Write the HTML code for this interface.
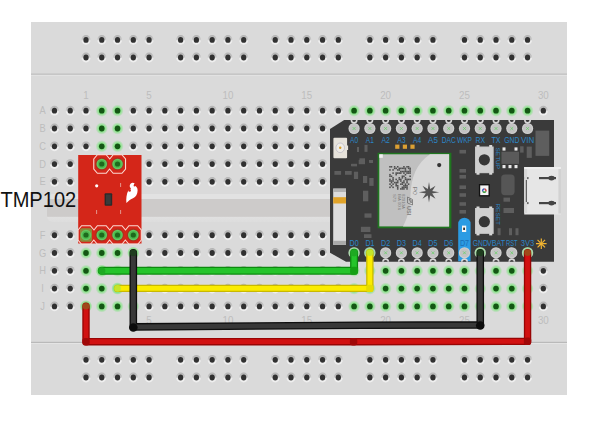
<!DOCTYPE html><html><head><meta charset="utf-8"><style>
html,body{margin:0;padding:0;background:#fff;width:600px;height:424px;overflow:hidden}
svg{display:block}
text{font-family:"Liberation Sans",sans-serif}
</style></head><body>
<svg width="600" height="424" viewBox="0 0 600 424">
<defs>
<radialGradient id="hg" cx="50%" cy="50%" r="50%">
<stop offset="0.45" stop-color="#7de37d"/><stop offset="1" stop-color="#7de37d" stop-opacity="0"/>
</radialGradient>
<linearGradient id="ring" x1="0" y1="0" x2="0" y2="1">
<stop offset="0" stop-color="#b2b2b2"/><stop offset="0.45" stop-color="#c8c8c8"/><stop offset="0.6" stop-color="#eeeeee"/><stop offset="1" stop-color="#f0f0f0"/>
</linearGradient>
<linearGradient id="chan" x1="0" y1="0" x2="0" y2="1">
<stop offset="0" stop-color="#e2e2e2"/><stop offset="0.17" stop-color="#e2e2e2"/><stop offset="0.19" stop-color="#cdcbca"/><stop offset="0.8" stop-color="#cdcbca"/><stop offset="0.82" stop-color="#e0e0e0"/><stop offset="1" stop-color="#dddddd"/>
</linearGradient>
</defs>

<rect x="31" y="22" width="536" height="373" fill="#dadada"/>
<rect x="31" y="73.6" width="536" height="1.2" fill="#b9b9b9"/><rect x="31" y="74.8" width="536" height="1" fill="#e4e4e4"/>
<rect x="31" y="341.8" width="536" height="1.2" fill="#b9b9b9"/><rect x="31" y="343" width="536" height="1" fill="#e4e4e4"/>
<rect x="47" y="194" width="504" height="28" rx="6" fill="url(#chan)"/>
<ellipse cx="86.00" cy="39.90" rx="4.5" ry="4.9" fill="url(#ring)"/>
<ellipse cx="86.00" cy="39.90" rx="2.65" ry="2.9" fill="#313131"/>
<ellipse cx="101.77" cy="39.90" rx="4.5" ry="4.9" fill="url(#ring)"/>
<ellipse cx="101.77" cy="39.90" rx="2.65" ry="2.9" fill="#313131"/>
<ellipse cx="117.54" cy="39.90" rx="4.5" ry="4.9" fill="url(#ring)"/>
<ellipse cx="117.54" cy="39.90" rx="2.65" ry="2.9" fill="#313131"/>
<ellipse cx="133.31" cy="39.90" rx="4.5" ry="4.9" fill="url(#ring)"/>
<ellipse cx="133.31" cy="39.90" rx="2.65" ry="2.9" fill="#313131"/>
<ellipse cx="149.08" cy="39.90" rx="4.5" ry="4.9" fill="url(#ring)"/>
<ellipse cx="149.08" cy="39.90" rx="2.65" ry="2.9" fill="#313131"/>
<ellipse cx="180.62" cy="39.90" rx="4.5" ry="4.9" fill="url(#ring)"/>
<ellipse cx="180.62" cy="39.90" rx="2.65" ry="2.9" fill="#313131"/>
<ellipse cx="196.39" cy="39.90" rx="4.5" ry="4.9" fill="url(#ring)"/>
<ellipse cx="196.39" cy="39.90" rx="2.65" ry="2.9" fill="#313131"/>
<ellipse cx="212.16" cy="39.90" rx="4.5" ry="4.9" fill="url(#ring)"/>
<ellipse cx="212.16" cy="39.90" rx="2.65" ry="2.9" fill="#313131"/>
<ellipse cx="227.93" cy="39.90" rx="4.5" ry="4.9" fill="url(#ring)"/>
<ellipse cx="227.93" cy="39.90" rx="2.65" ry="2.9" fill="#313131"/>
<ellipse cx="243.70" cy="39.90" rx="4.5" ry="4.9" fill="url(#ring)"/>
<ellipse cx="243.70" cy="39.90" rx="2.65" ry="2.9" fill="#313131"/>
<ellipse cx="275.24" cy="39.90" rx="4.5" ry="4.9" fill="url(#ring)"/>
<ellipse cx="275.24" cy="39.90" rx="2.65" ry="2.9" fill="#313131"/>
<ellipse cx="291.01" cy="39.90" rx="4.5" ry="4.9" fill="url(#ring)"/>
<ellipse cx="291.01" cy="39.90" rx="2.65" ry="2.9" fill="#313131"/>
<ellipse cx="306.78" cy="39.90" rx="4.5" ry="4.9" fill="url(#ring)"/>
<ellipse cx="306.78" cy="39.90" rx="2.65" ry="2.9" fill="#313131"/>
<ellipse cx="322.55" cy="39.90" rx="4.5" ry="4.9" fill="url(#ring)"/>
<ellipse cx="322.55" cy="39.90" rx="2.65" ry="2.9" fill="#313131"/>
<ellipse cx="338.32" cy="39.90" rx="4.5" ry="4.9" fill="url(#ring)"/>
<ellipse cx="338.32" cy="39.90" rx="2.65" ry="2.9" fill="#313131"/>
<ellipse cx="369.86" cy="39.90" rx="4.5" ry="4.9" fill="url(#ring)"/>
<ellipse cx="369.86" cy="39.90" rx="2.65" ry="2.9" fill="#313131"/>
<ellipse cx="385.63" cy="39.90" rx="4.5" ry="4.9" fill="url(#ring)"/>
<ellipse cx="385.63" cy="39.90" rx="2.65" ry="2.9" fill="#313131"/>
<ellipse cx="401.40" cy="39.90" rx="4.5" ry="4.9" fill="url(#ring)"/>
<ellipse cx="401.40" cy="39.90" rx="2.65" ry="2.9" fill="#313131"/>
<ellipse cx="417.17" cy="39.90" rx="4.5" ry="4.9" fill="url(#ring)"/>
<ellipse cx="417.17" cy="39.90" rx="2.65" ry="2.9" fill="#313131"/>
<ellipse cx="432.94" cy="39.90" rx="4.5" ry="4.9" fill="url(#ring)"/>
<ellipse cx="432.94" cy="39.90" rx="2.65" ry="2.9" fill="#313131"/>
<ellipse cx="464.48" cy="39.90" rx="4.5" ry="4.9" fill="url(#ring)"/>
<ellipse cx="464.48" cy="39.90" rx="2.65" ry="2.9" fill="#313131"/>
<ellipse cx="480.25" cy="39.90" rx="4.5" ry="4.9" fill="url(#ring)"/>
<ellipse cx="480.25" cy="39.90" rx="2.65" ry="2.9" fill="#313131"/>
<ellipse cx="496.02" cy="39.90" rx="4.5" ry="4.9" fill="url(#ring)"/>
<ellipse cx="496.02" cy="39.90" rx="2.65" ry="2.9" fill="#313131"/>
<ellipse cx="511.79" cy="39.90" rx="4.5" ry="4.9" fill="url(#ring)"/>
<ellipse cx="511.79" cy="39.90" rx="2.65" ry="2.9" fill="#313131"/>
<ellipse cx="527.56" cy="39.90" rx="4.5" ry="4.9" fill="url(#ring)"/>
<ellipse cx="527.56" cy="39.90" rx="2.65" ry="2.9" fill="#313131"/>
<ellipse cx="86.00" cy="57.50" rx="4.5" ry="4.9" fill="url(#ring)"/>
<ellipse cx="86.00" cy="57.50" rx="2.65" ry="2.9" fill="#313131"/>
<ellipse cx="101.77" cy="57.50" rx="4.5" ry="4.9" fill="url(#ring)"/>
<ellipse cx="101.77" cy="57.50" rx="2.65" ry="2.9" fill="#313131"/>
<ellipse cx="117.54" cy="57.50" rx="4.5" ry="4.9" fill="url(#ring)"/>
<ellipse cx="117.54" cy="57.50" rx="2.65" ry="2.9" fill="#313131"/>
<ellipse cx="133.31" cy="57.50" rx="4.5" ry="4.9" fill="url(#ring)"/>
<ellipse cx="133.31" cy="57.50" rx="2.65" ry="2.9" fill="#313131"/>
<ellipse cx="149.08" cy="57.50" rx="4.5" ry="4.9" fill="url(#ring)"/>
<ellipse cx="149.08" cy="57.50" rx="2.65" ry="2.9" fill="#313131"/>
<ellipse cx="180.62" cy="57.50" rx="4.5" ry="4.9" fill="url(#ring)"/>
<ellipse cx="180.62" cy="57.50" rx="2.65" ry="2.9" fill="#313131"/>
<ellipse cx="196.39" cy="57.50" rx="4.5" ry="4.9" fill="url(#ring)"/>
<ellipse cx="196.39" cy="57.50" rx="2.65" ry="2.9" fill="#313131"/>
<ellipse cx="212.16" cy="57.50" rx="4.5" ry="4.9" fill="url(#ring)"/>
<ellipse cx="212.16" cy="57.50" rx="2.65" ry="2.9" fill="#313131"/>
<ellipse cx="227.93" cy="57.50" rx="4.5" ry="4.9" fill="url(#ring)"/>
<ellipse cx="227.93" cy="57.50" rx="2.65" ry="2.9" fill="#313131"/>
<ellipse cx="243.70" cy="57.50" rx="4.5" ry="4.9" fill="url(#ring)"/>
<ellipse cx="243.70" cy="57.50" rx="2.65" ry="2.9" fill="#313131"/>
<ellipse cx="275.24" cy="57.50" rx="4.5" ry="4.9" fill="url(#ring)"/>
<ellipse cx="275.24" cy="57.50" rx="2.65" ry="2.9" fill="#313131"/>
<ellipse cx="291.01" cy="57.50" rx="4.5" ry="4.9" fill="url(#ring)"/>
<ellipse cx="291.01" cy="57.50" rx="2.65" ry="2.9" fill="#313131"/>
<ellipse cx="306.78" cy="57.50" rx="4.5" ry="4.9" fill="url(#ring)"/>
<ellipse cx="306.78" cy="57.50" rx="2.65" ry="2.9" fill="#313131"/>
<ellipse cx="322.55" cy="57.50" rx="4.5" ry="4.9" fill="url(#ring)"/>
<ellipse cx="322.55" cy="57.50" rx="2.65" ry="2.9" fill="#313131"/>
<ellipse cx="338.32" cy="57.50" rx="4.5" ry="4.9" fill="url(#ring)"/>
<ellipse cx="338.32" cy="57.50" rx="2.65" ry="2.9" fill="#313131"/>
<ellipse cx="369.86" cy="57.50" rx="4.5" ry="4.9" fill="url(#ring)"/>
<ellipse cx="369.86" cy="57.50" rx="2.65" ry="2.9" fill="#313131"/>
<ellipse cx="385.63" cy="57.50" rx="4.5" ry="4.9" fill="url(#ring)"/>
<ellipse cx="385.63" cy="57.50" rx="2.65" ry="2.9" fill="#313131"/>
<ellipse cx="401.40" cy="57.50" rx="4.5" ry="4.9" fill="url(#ring)"/>
<ellipse cx="401.40" cy="57.50" rx="2.65" ry="2.9" fill="#313131"/>
<ellipse cx="417.17" cy="57.50" rx="4.5" ry="4.9" fill="url(#ring)"/>
<ellipse cx="417.17" cy="57.50" rx="2.65" ry="2.9" fill="#313131"/>
<ellipse cx="432.94" cy="57.50" rx="4.5" ry="4.9" fill="url(#ring)"/>
<ellipse cx="432.94" cy="57.50" rx="2.65" ry="2.9" fill="#313131"/>
<ellipse cx="464.48" cy="57.50" rx="4.5" ry="4.9" fill="url(#ring)"/>
<ellipse cx="464.48" cy="57.50" rx="2.65" ry="2.9" fill="#313131"/>
<ellipse cx="480.25" cy="57.50" rx="4.5" ry="4.9" fill="url(#ring)"/>
<ellipse cx="480.25" cy="57.50" rx="2.65" ry="2.9" fill="#313131"/>
<ellipse cx="496.02" cy="57.50" rx="4.5" ry="4.9" fill="url(#ring)"/>
<ellipse cx="496.02" cy="57.50" rx="2.65" ry="2.9" fill="#313131"/>
<ellipse cx="511.79" cy="57.50" rx="4.5" ry="4.9" fill="url(#ring)"/>
<ellipse cx="511.79" cy="57.50" rx="2.65" ry="2.9" fill="#313131"/>
<ellipse cx="527.56" cy="57.50" rx="4.5" ry="4.9" fill="url(#ring)"/>
<ellipse cx="527.56" cy="57.50" rx="2.65" ry="2.9" fill="#313131"/>
<ellipse cx="86.00" cy="359.80" rx="4.5" ry="4.9" fill="url(#ring)"/>
<ellipse cx="86.00" cy="359.80" rx="2.65" ry="2.9" fill="#313131"/>
<ellipse cx="101.77" cy="359.80" rx="4.5" ry="4.9" fill="url(#ring)"/>
<ellipse cx="101.77" cy="359.80" rx="2.65" ry="2.9" fill="#313131"/>
<ellipse cx="117.54" cy="359.80" rx="4.5" ry="4.9" fill="url(#ring)"/>
<ellipse cx="117.54" cy="359.80" rx="2.65" ry="2.9" fill="#313131"/>
<ellipse cx="133.31" cy="359.80" rx="4.5" ry="4.9" fill="url(#ring)"/>
<ellipse cx="133.31" cy="359.80" rx="2.65" ry="2.9" fill="#313131"/>
<ellipse cx="149.08" cy="359.80" rx="4.5" ry="4.9" fill="url(#ring)"/>
<ellipse cx="149.08" cy="359.80" rx="2.65" ry="2.9" fill="#313131"/>
<ellipse cx="180.62" cy="359.80" rx="4.5" ry="4.9" fill="url(#ring)"/>
<ellipse cx="180.62" cy="359.80" rx="2.65" ry="2.9" fill="#313131"/>
<ellipse cx="196.39" cy="359.80" rx="4.5" ry="4.9" fill="url(#ring)"/>
<ellipse cx="196.39" cy="359.80" rx="2.65" ry="2.9" fill="#313131"/>
<ellipse cx="212.16" cy="359.80" rx="4.5" ry="4.9" fill="url(#ring)"/>
<ellipse cx="212.16" cy="359.80" rx="2.65" ry="2.9" fill="#313131"/>
<ellipse cx="227.93" cy="359.80" rx="4.5" ry="4.9" fill="url(#ring)"/>
<ellipse cx="227.93" cy="359.80" rx="2.65" ry="2.9" fill="#313131"/>
<ellipse cx="243.70" cy="359.80" rx="4.5" ry="4.9" fill="url(#ring)"/>
<ellipse cx="243.70" cy="359.80" rx="2.65" ry="2.9" fill="#313131"/>
<ellipse cx="275.24" cy="359.80" rx="4.5" ry="4.9" fill="url(#ring)"/>
<ellipse cx="275.24" cy="359.80" rx="2.65" ry="2.9" fill="#313131"/>
<ellipse cx="291.01" cy="359.80" rx="4.5" ry="4.9" fill="url(#ring)"/>
<ellipse cx="291.01" cy="359.80" rx="2.65" ry="2.9" fill="#313131"/>
<ellipse cx="306.78" cy="359.80" rx="4.5" ry="4.9" fill="url(#ring)"/>
<ellipse cx="306.78" cy="359.80" rx="2.65" ry="2.9" fill="#313131"/>
<ellipse cx="322.55" cy="359.80" rx="4.5" ry="4.9" fill="url(#ring)"/>
<ellipse cx="322.55" cy="359.80" rx="2.65" ry="2.9" fill="#313131"/>
<ellipse cx="338.32" cy="359.80" rx="4.5" ry="4.9" fill="url(#ring)"/>
<ellipse cx="338.32" cy="359.80" rx="2.65" ry="2.9" fill="#313131"/>
<ellipse cx="369.86" cy="359.80" rx="4.5" ry="4.9" fill="url(#ring)"/>
<ellipse cx="369.86" cy="359.80" rx="2.65" ry="2.9" fill="#313131"/>
<ellipse cx="385.63" cy="359.80" rx="4.5" ry="4.9" fill="url(#ring)"/>
<ellipse cx="385.63" cy="359.80" rx="2.65" ry="2.9" fill="#313131"/>
<ellipse cx="401.40" cy="359.80" rx="4.5" ry="4.9" fill="url(#ring)"/>
<ellipse cx="401.40" cy="359.80" rx="2.65" ry="2.9" fill="#313131"/>
<ellipse cx="417.17" cy="359.80" rx="4.5" ry="4.9" fill="url(#ring)"/>
<ellipse cx="417.17" cy="359.80" rx="2.65" ry="2.9" fill="#313131"/>
<ellipse cx="432.94" cy="359.80" rx="4.5" ry="4.9" fill="url(#ring)"/>
<ellipse cx="432.94" cy="359.80" rx="2.65" ry="2.9" fill="#313131"/>
<ellipse cx="464.48" cy="359.80" rx="4.5" ry="4.9" fill="url(#ring)"/>
<ellipse cx="464.48" cy="359.80" rx="2.65" ry="2.9" fill="#313131"/>
<ellipse cx="480.25" cy="359.80" rx="4.5" ry="4.9" fill="url(#ring)"/>
<ellipse cx="480.25" cy="359.80" rx="2.65" ry="2.9" fill="#313131"/>
<ellipse cx="496.02" cy="359.80" rx="4.5" ry="4.9" fill="url(#ring)"/>
<ellipse cx="496.02" cy="359.80" rx="2.65" ry="2.9" fill="#313131"/>
<ellipse cx="511.79" cy="359.80" rx="4.5" ry="4.9" fill="url(#ring)"/>
<ellipse cx="511.79" cy="359.80" rx="2.65" ry="2.9" fill="#313131"/>
<ellipse cx="527.56" cy="359.80" rx="4.5" ry="4.9" fill="url(#ring)"/>
<ellipse cx="527.56" cy="359.80" rx="2.65" ry="2.9" fill="#313131"/>
<ellipse cx="86.00" cy="377.50" rx="4.5" ry="4.9" fill="url(#ring)"/>
<ellipse cx="86.00" cy="377.50" rx="2.65" ry="2.9" fill="#313131"/>
<ellipse cx="101.77" cy="377.50" rx="4.5" ry="4.9" fill="url(#ring)"/>
<ellipse cx="101.77" cy="377.50" rx="2.65" ry="2.9" fill="#313131"/>
<ellipse cx="117.54" cy="377.50" rx="4.5" ry="4.9" fill="url(#ring)"/>
<ellipse cx="117.54" cy="377.50" rx="2.65" ry="2.9" fill="#313131"/>
<ellipse cx="133.31" cy="377.50" rx="4.5" ry="4.9" fill="url(#ring)"/>
<ellipse cx="133.31" cy="377.50" rx="2.65" ry="2.9" fill="#313131"/>
<ellipse cx="149.08" cy="377.50" rx="4.5" ry="4.9" fill="url(#ring)"/>
<ellipse cx="149.08" cy="377.50" rx="2.65" ry="2.9" fill="#313131"/>
<ellipse cx="180.62" cy="377.50" rx="4.5" ry="4.9" fill="url(#ring)"/>
<ellipse cx="180.62" cy="377.50" rx="2.65" ry="2.9" fill="#313131"/>
<ellipse cx="196.39" cy="377.50" rx="4.5" ry="4.9" fill="url(#ring)"/>
<ellipse cx="196.39" cy="377.50" rx="2.65" ry="2.9" fill="#313131"/>
<ellipse cx="212.16" cy="377.50" rx="4.5" ry="4.9" fill="url(#ring)"/>
<ellipse cx="212.16" cy="377.50" rx="2.65" ry="2.9" fill="#313131"/>
<ellipse cx="227.93" cy="377.50" rx="4.5" ry="4.9" fill="url(#ring)"/>
<ellipse cx="227.93" cy="377.50" rx="2.65" ry="2.9" fill="#313131"/>
<ellipse cx="243.70" cy="377.50" rx="4.5" ry="4.9" fill="url(#ring)"/>
<ellipse cx="243.70" cy="377.50" rx="2.65" ry="2.9" fill="#313131"/>
<ellipse cx="275.24" cy="377.50" rx="4.5" ry="4.9" fill="url(#ring)"/>
<ellipse cx="275.24" cy="377.50" rx="2.65" ry="2.9" fill="#313131"/>
<ellipse cx="291.01" cy="377.50" rx="4.5" ry="4.9" fill="url(#ring)"/>
<ellipse cx="291.01" cy="377.50" rx="2.65" ry="2.9" fill="#313131"/>
<ellipse cx="306.78" cy="377.50" rx="4.5" ry="4.9" fill="url(#ring)"/>
<ellipse cx="306.78" cy="377.50" rx="2.65" ry="2.9" fill="#313131"/>
<ellipse cx="322.55" cy="377.50" rx="4.5" ry="4.9" fill="url(#ring)"/>
<ellipse cx="322.55" cy="377.50" rx="2.65" ry="2.9" fill="#313131"/>
<ellipse cx="338.32" cy="377.50" rx="4.5" ry="4.9" fill="url(#ring)"/>
<ellipse cx="338.32" cy="377.50" rx="2.65" ry="2.9" fill="#313131"/>
<ellipse cx="369.86" cy="377.50" rx="4.5" ry="4.9" fill="url(#ring)"/>
<ellipse cx="369.86" cy="377.50" rx="2.65" ry="2.9" fill="#313131"/>
<ellipse cx="385.63" cy="377.50" rx="4.5" ry="4.9" fill="url(#ring)"/>
<ellipse cx="385.63" cy="377.50" rx="2.65" ry="2.9" fill="#313131"/>
<ellipse cx="401.40" cy="377.50" rx="4.5" ry="4.9" fill="url(#ring)"/>
<ellipse cx="401.40" cy="377.50" rx="2.65" ry="2.9" fill="#313131"/>
<ellipse cx="417.17" cy="377.50" rx="4.5" ry="4.9" fill="url(#ring)"/>
<ellipse cx="417.17" cy="377.50" rx="2.65" ry="2.9" fill="#313131"/>
<ellipse cx="432.94" cy="377.50" rx="4.5" ry="4.9" fill="url(#ring)"/>
<ellipse cx="432.94" cy="377.50" rx="2.65" ry="2.9" fill="#313131"/>
<ellipse cx="464.48" cy="377.50" rx="4.5" ry="4.9" fill="url(#ring)"/>
<ellipse cx="464.48" cy="377.50" rx="2.65" ry="2.9" fill="#313131"/>
<ellipse cx="480.25" cy="377.50" rx="4.5" ry="4.9" fill="url(#ring)"/>
<ellipse cx="480.25" cy="377.50" rx="2.65" ry="2.9" fill="#313131"/>
<ellipse cx="496.02" cy="377.50" rx="4.5" ry="4.9" fill="url(#ring)"/>
<ellipse cx="496.02" cy="377.50" rx="2.65" ry="2.9" fill="#313131"/>
<ellipse cx="511.79" cy="377.50" rx="4.5" ry="4.9" fill="url(#ring)"/>
<ellipse cx="511.79" cy="377.50" rx="2.65" ry="2.9" fill="#313131"/>
<ellipse cx="527.56" cy="377.50" rx="4.5" ry="4.9" fill="url(#ring)"/>
<ellipse cx="527.56" cy="377.50" rx="2.65" ry="2.9" fill="#313131"/>
<ellipse cx="54.46" cy="110.70" rx="4.5" ry="4.9" fill="url(#ring)"/>
<ellipse cx="54.46" cy="110.70" rx="2.65" ry="2.9" fill="#313131"/>
<ellipse cx="54.46" cy="128.49" rx="4.5" ry="4.9" fill="url(#ring)"/>
<ellipse cx="54.46" cy="128.49" rx="2.65" ry="2.9" fill="#313131"/>
<ellipse cx="54.46" cy="146.28" rx="4.5" ry="4.9" fill="url(#ring)"/>
<ellipse cx="54.46" cy="146.28" rx="2.65" ry="2.9" fill="#313131"/>
<ellipse cx="54.46" cy="164.07" rx="4.5" ry="4.9" fill="url(#ring)"/>
<ellipse cx="54.46" cy="164.07" rx="2.65" ry="2.9" fill="#313131"/>
<ellipse cx="54.46" cy="181.86" rx="4.5" ry="4.9" fill="url(#ring)"/>
<ellipse cx="54.46" cy="181.86" rx="2.65" ry="2.9" fill="#313131"/>
<ellipse cx="54.46" cy="235.23" rx="4.5" ry="4.9" fill="url(#ring)"/>
<ellipse cx="54.46" cy="235.23" rx="2.65" ry="2.9" fill="#313131"/>
<ellipse cx="54.46" cy="253.02" rx="4.5" ry="4.9" fill="url(#ring)"/>
<ellipse cx="54.46" cy="253.02" rx="2.65" ry="2.9" fill="#313131"/>
<ellipse cx="54.46" cy="270.81" rx="4.5" ry="4.9" fill="url(#ring)"/>
<ellipse cx="54.46" cy="270.81" rx="2.65" ry="2.9" fill="#313131"/>
<ellipse cx="54.46" cy="288.60" rx="4.5" ry="4.9" fill="url(#ring)"/>
<ellipse cx="54.46" cy="288.60" rx="2.65" ry="2.9" fill="#313131"/>
<ellipse cx="54.46" cy="306.39" rx="4.5" ry="4.9" fill="url(#ring)"/>
<ellipse cx="54.46" cy="306.39" rx="2.65" ry="2.9" fill="#313131"/>
<ellipse cx="70.23" cy="110.70" rx="4.5" ry="4.9" fill="url(#ring)"/>
<ellipse cx="70.23" cy="110.70" rx="2.65" ry="2.9" fill="#313131"/>
<ellipse cx="70.23" cy="128.49" rx="4.5" ry="4.9" fill="url(#ring)"/>
<ellipse cx="70.23" cy="128.49" rx="2.65" ry="2.9" fill="#313131"/>
<ellipse cx="70.23" cy="146.28" rx="4.5" ry="4.9" fill="url(#ring)"/>
<ellipse cx="70.23" cy="146.28" rx="2.65" ry="2.9" fill="#313131"/>
<ellipse cx="70.23" cy="164.07" rx="4.5" ry="4.9" fill="url(#ring)"/>
<ellipse cx="70.23" cy="164.07" rx="2.65" ry="2.9" fill="#313131"/>
<ellipse cx="70.23" cy="181.86" rx="4.5" ry="4.9" fill="url(#ring)"/>
<ellipse cx="70.23" cy="181.86" rx="2.65" ry="2.9" fill="#313131"/>
<ellipse cx="70.23" cy="235.23" rx="4.5" ry="4.9" fill="url(#ring)"/>
<ellipse cx="70.23" cy="235.23" rx="2.65" ry="2.9" fill="#313131"/>
<ellipse cx="70.23" cy="253.02" rx="4.5" ry="4.9" fill="url(#ring)"/>
<ellipse cx="70.23" cy="253.02" rx="2.65" ry="2.9" fill="#313131"/>
<ellipse cx="70.23" cy="270.81" rx="4.5" ry="4.9" fill="url(#ring)"/>
<ellipse cx="70.23" cy="270.81" rx="2.65" ry="2.9" fill="#313131"/>
<ellipse cx="70.23" cy="288.60" rx="4.5" ry="4.9" fill="url(#ring)"/>
<ellipse cx="70.23" cy="288.60" rx="2.65" ry="2.9" fill="#313131"/>
<ellipse cx="70.23" cy="306.39" rx="4.5" ry="4.9" fill="url(#ring)"/>
<ellipse cx="70.23" cy="306.39" rx="2.65" ry="2.9" fill="#313131"/>
<ellipse cx="86.00" cy="110.70" rx="4.5" ry="4.9" fill="url(#ring)"/>
<ellipse cx="86.00" cy="110.70" rx="2.65" ry="2.9" fill="#313131"/>
<ellipse cx="86.00" cy="128.49" rx="4.5" ry="4.9" fill="url(#ring)"/>
<ellipse cx="86.00" cy="128.49" rx="2.65" ry="2.9" fill="#313131"/>
<ellipse cx="86.00" cy="146.28" rx="4.5" ry="4.9" fill="url(#ring)"/>
<ellipse cx="86.00" cy="146.28" rx="2.65" ry="2.9" fill="#313131"/>
<circle cx="86.00" cy="253.02" r="6.2" fill="url(#hg)"/>
<ellipse cx="86.00" cy="253.02" rx="2.8" ry="2.9" fill="#145614"/>
<circle cx="86.00" cy="270.81" r="6.2" fill="url(#hg)"/>
<ellipse cx="86.00" cy="270.81" rx="2.8" ry="2.9" fill="#145614"/>
<circle cx="86.00" cy="288.60" r="6.2" fill="url(#hg)"/>
<ellipse cx="86.00" cy="288.60" rx="2.8" ry="2.9" fill="#145614"/>
<circle cx="86.00" cy="306.39" r="6.2" fill="url(#hg)"/>
<ellipse cx="86.00" cy="306.39" rx="2.8" ry="2.9" fill="#145614"/>
<circle cx="101.77" cy="110.70" r="6.2" fill="url(#hg)"/>
<ellipse cx="101.77" cy="110.70" rx="2.8" ry="2.9" fill="#145614"/>
<circle cx="101.77" cy="128.49" r="6.2" fill="url(#hg)"/>
<ellipse cx="101.77" cy="128.49" rx="2.8" ry="2.9" fill="#145614"/>
<circle cx="101.77" cy="146.28" r="6.2" fill="url(#hg)"/>
<ellipse cx="101.77" cy="146.28" rx="2.8" ry="2.9" fill="#145614"/>
<circle cx="101.77" cy="253.02" r="6.2" fill="url(#hg)"/>
<ellipse cx="101.77" cy="253.02" rx="2.8" ry="2.9" fill="#145614"/>
<circle cx="101.77" cy="270.81" r="6.2" fill="url(#hg)"/>
<ellipse cx="101.77" cy="270.81" rx="2.8" ry="2.9" fill="#145614"/>
<circle cx="101.77" cy="288.60" r="6.2" fill="url(#hg)"/>
<ellipse cx="101.77" cy="288.60" rx="2.8" ry="2.9" fill="#145614"/>
<circle cx="101.77" cy="306.39" r="6.2" fill="url(#hg)"/>
<ellipse cx="101.77" cy="306.39" rx="2.8" ry="2.9" fill="#145614"/>
<circle cx="117.54" cy="110.70" r="6.2" fill="url(#hg)"/>
<ellipse cx="117.54" cy="110.70" rx="2.8" ry="2.9" fill="#145614"/>
<circle cx="117.54" cy="128.49" r="6.2" fill="url(#hg)"/>
<ellipse cx="117.54" cy="128.49" rx="2.8" ry="2.9" fill="#145614"/>
<circle cx="117.54" cy="146.28" r="6.2" fill="url(#hg)"/>
<ellipse cx="117.54" cy="146.28" rx="2.8" ry="2.9" fill="#145614"/>
<circle cx="117.54" cy="253.02" r="6.2" fill="url(#hg)"/>
<ellipse cx="117.54" cy="253.02" rx="2.8" ry="2.9" fill="#145614"/>
<circle cx="117.54" cy="270.81" r="6.2" fill="url(#hg)"/>
<ellipse cx="117.54" cy="270.81" rx="2.8" ry="2.9" fill="#145614"/>
<circle cx="117.54" cy="288.60" r="6.2" fill="url(#hg)"/>
<ellipse cx="117.54" cy="288.60" rx="2.8" ry="2.9" fill="#145614"/>
<circle cx="117.54" cy="306.39" r="6.2" fill="url(#hg)"/>
<ellipse cx="117.54" cy="306.39" rx="2.8" ry="2.9" fill="#145614"/>
<ellipse cx="133.31" cy="110.70" rx="4.5" ry="4.9" fill="url(#ring)"/>
<ellipse cx="133.31" cy="110.70" rx="2.65" ry="2.9" fill="#313131"/>
<ellipse cx="133.31" cy="128.49" rx="4.5" ry="4.9" fill="url(#ring)"/>
<ellipse cx="133.31" cy="128.49" rx="2.65" ry="2.9" fill="#313131"/>
<ellipse cx="133.31" cy="146.28" rx="4.5" ry="4.9" fill="url(#ring)"/>
<ellipse cx="133.31" cy="146.28" rx="2.65" ry="2.9" fill="#313131"/>
<circle cx="133.31" cy="253.02" r="6.2" fill="url(#hg)"/>
<ellipse cx="133.31" cy="253.02" rx="2.8" ry="2.9" fill="#145614"/>
<circle cx="133.31" cy="270.81" r="6.2" fill="url(#hg)"/>
<ellipse cx="133.31" cy="270.81" rx="2.8" ry="2.9" fill="#145614"/>
<circle cx="133.31" cy="288.60" r="6.2" fill="url(#hg)"/>
<ellipse cx="133.31" cy="288.60" rx="2.8" ry="2.9" fill="#145614"/>
<circle cx="133.31" cy="306.39" r="6.2" fill="url(#hg)"/>
<ellipse cx="133.31" cy="306.39" rx="2.8" ry="2.9" fill="#145614"/>
<ellipse cx="149.08" cy="110.70" rx="4.5" ry="4.9" fill="url(#ring)"/>
<ellipse cx="149.08" cy="110.70" rx="2.65" ry="2.9" fill="#313131"/>
<ellipse cx="149.08" cy="128.49" rx="4.5" ry="4.9" fill="url(#ring)"/>
<ellipse cx="149.08" cy="128.49" rx="2.65" ry="2.9" fill="#313131"/>
<ellipse cx="149.08" cy="146.28" rx="4.5" ry="4.9" fill="url(#ring)"/>
<ellipse cx="149.08" cy="146.28" rx="2.65" ry="2.9" fill="#313131"/>
<ellipse cx="149.08" cy="164.07" rx="4.5" ry="4.9" fill="url(#ring)"/>
<ellipse cx="149.08" cy="164.07" rx="2.65" ry="2.9" fill="#313131"/>
<ellipse cx="149.08" cy="181.86" rx="4.5" ry="4.9" fill="url(#ring)"/>
<ellipse cx="149.08" cy="181.86" rx="2.65" ry="2.9" fill="#313131"/>
<ellipse cx="149.08" cy="235.23" rx="4.5" ry="4.9" fill="url(#ring)"/>
<ellipse cx="149.08" cy="235.23" rx="2.65" ry="2.9" fill="#313131"/>
<ellipse cx="149.08" cy="253.02" rx="4.5" ry="4.9" fill="url(#ring)"/>
<ellipse cx="149.08" cy="253.02" rx="2.65" ry="2.9" fill="#313131"/>
<ellipse cx="149.08" cy="270.81" rx="4.5" ry="4.9" fill="url(#ring)"/>
<ellipse cx="149.08" cy="270.81" rx="2.65" ry="2.9" fill="#313131"/>
<ellipse cx="149.08" cy="288.60" rx="4.5" ry="4.9" fill="url(#ring)"/>
<ellipse cx="149.08" cy="288.60" rx="2.65" ry="2.9" fill="#313131"/>
<ellipse cx="149.08" cy="306.39" rx="4.5" ry="4.9" fill="url(#ring)"/>
<ellipse cx="149.08" cy="306.39" rx="2.65" ry="2.9" fill="#313131"/>
<ellipse cx="164.85" cy="110.70" rx="4.5" ry="4.9" fill="url(#ring)"/>
<ellipse cx="164.85" cy="110.70" rx="2.65" ry="2.9" fill="#313131"/>
<ellipse cx="164.85" cy="128.49" rx="4.5" ry="4.9" fill="url(#ring)"/>
<ellipse cx="164.85" cy="128.49" rx="2.65" ry="2.9" fill="#313131"/>
<ellipse cx="164.85" cy="146.28" rx="4.5" ry="4.9" fill="url(#ring)"/>
<ellipse cx="164.85" cy="146.28" rx="2.65" ry="2.9" fill="#313131"/>
<ellipse cx="164.85" cy="164.07" rx="4.5" ry="4.9" fill="url(#ring)"/>
<ellipse cx="164.85" cy="164.07" rx="2.65" ry="2.9" fill="#313131"/>
<ellipse cx="164.85" cy="181.86" rx="4.5" ry="4.9" fill="url(#ring)"/>
<ellipse cx="164.85" cy="181.86" rx="2.65" ry="2.9" fill="#313131"/>
<ellipse cx="164.85" cy="235.23" rx="4.5" ry="4.9" fill="url(#ring)"/>
<ellipse cx="164.85" cy="235.23" rx="2.65" ry="2.9" fill="#313131"/>
<ellipse cx="164.85" cy="253.02" rx="4.5" ry="4.9" fill="url(#ring)"/>
<ellipse cx="164.85" cy="253.02" rx="2.65" ry="2.9" fill="#313131"/>
<ellipse cx="164.85" cy="270.81" rx="4.5" ry="4.9" fill="url(#ring)"/>
<ellipse cx="164.85" cy="270.81" rx="2.65" ry="2.9" fill="#313131"/>
<ellipse cx="164.85" cy="288.60" rx="4.5" ry="4.9" fill="url(#ring)"/>
<ellipse cx="164.85" cy="288.60" rx="2.65" ry="2.9" fill="#313131"/>
<ellipse cx="164.85" cy="306.39" rx="4.5" ry="4.9" fill="url(#ring)"/>
<ellipse cx="164.85" cy="306.39" rx="2.65" ry="2.9" fill="#313131"/>
<ellipse cx="180.62" cy="110.70" rx="4.5" ry="4.9" fill="url(#ring)"/>
<ellipse cx="180.62" cy="110.70" rx="2.65" ry="2.9" fill="#313131"/>
<ellipse cx="180.62" cy="128.49" rx="4.5" ry="4.9" fill="url(#ring)"/>
<ellipse cx="180.62" cy="128.49" rx="2.65" ry="2.9" fill="#313131"/>
<ellipse cx="180.62" cy="146.28" rx="4.5" ry="4.9" fill="url(#ring)"/>
<ellipse cx="180.62" cy="146.28" rx="2.65" ry="2.9" fill="#313131"/>
<ellipse cx="180.62" cy="164.07" rx="4.5" ry="4.9" fill="url(#ring)"/>
<ellipse cx="180.62" cy="164.07" rx="2.65" ry="2.9" fill="#313131"/>
<ellipse cx="180.62" cy="181.86" rx="4.5" ry="4.9" fill="url(#ring)"/>
<ellipse cx="180.62" cy="181.86" rx="2.65" ry="2.9" fill="#313131"/>
<ellipse cx="180.62" cy="235.23" rx="4.5" ry="4.9" fill="url(#ring)"/>
<ellipse cx="180.62" cy="235.23" rx="2.65" ry="2.9" fill="#313131"/>
<ellipse cx="180.62" cy="253.02" rx="4.5" ry="4.9" fill="url(#ring)"/>
<ellipse cx="180.62" cy="253.02" rx="2.65" ry="2.9" fill="#313131"/>
<ellipse cx="180.62" cy="270.81" rx="4.5" ry="4.9" fill="url(#ring)"/>
<ellipse cx="180.62" cy="270.81" rx="2.65" ry="2.9" fill="#313131"/>
<ellipse cx="180.62" cy="288.60" rx="4.5" ry="4.9" fill="url(#ring)"/>
<ellipse cx="180.62" cy="288.60" rx="2.65" ry="2.9" fill="#313131"/>
<ellipse cx="180.62" cy="306.39" rx="4.5" ry="4.9" fill="url(#ring)"/>
<ellipse cx="180.62" cy="306.39" rx="2.65" ry="2.9" fill="#313131"/>
<ellipse cx="196.39" cy="110.70" rx="4.5" ry="4.9" fill="url(#ring)"/>
<ellipse cx="196.39" cy="110.70" rx="2.65" ry="2.9" fill="#313131"/>
<ellipse cx="196.39" cy="128.49" rx="4.5" ry="4.9" fill="url(#ring)"/>
<ellipse cx="196.39" cy="128.49" rx="2.65" ry="2.9" fill="#313131"/>
<ellipse cx="196.39" cy="146.28" rx="4.5" ry="4.9" fill="url(#ring)"/>
<ellipse cx="196.39" cy="146.28" rx="2.65" ry="2.9" fill="#313131"/>
<ellipse cx="196.39" cy="164.07" rx="4.5" ry="4.9" fill="url(#ring)"/>
<ellipse cx="196.39" cy="164.07" rx="2.65" ry="2.9" fill="#313131"/>
<ellipse cx="196.39" cy="181.86" rx="4.5" ry="4.9" fill="url(#ring)"/>
<ellipse cx="196.39" cy="181.86" rx="2.65" ry="2.9" fill="#313131"/>
<ellipse cx="196.39" cy="235.23" rx="4.5" ry="4.9" fill="url(#ring)"/>
<ellipse cx="196.39" cy="235.23" rx="2.65" ry="2.9" fill="#313131"/>
<ellipse cx="196.39" cy="253.02" rx="4.5" ry="4.9" fill="url(#ring)"/>
<ellipse cx="196.39" cy="253.02" rx="2.65" ry="2.9" fill="#313131"/>
<ellipse cx="196.39" cy="270.81" rx="4.5" ry="4.9" fill="url(#ring)"/>
<ellipse cx="196.39" cy="270.81" rx="2.65" ry="2.9" fill="#313131"/>
<ellipse cx="196.39" cy="288.60" rx="4.5" ry="4.9" fill="url(#ring)"/>
<ellipse cx="196.39" cy="288.60" rx="2.65" ry="2.9" fill="#313131"/>
<ellipse cx="196.39" cy="306.39" rx="4.5" ry="4.9" fill="url(#ring)"/>
<ellipse cx="196.39" cy="306.39" rx="2.65" ry="2.9" fill="#313131"/>
<ellipse cx="212.16" cy="110.70" rx="4.5" ry="4.9" fill="url(#ring)"/>
<ellipse cx="212.16" cy="110.70" rx="2.65" ry="2.9" fill="#313131"/>
<ellipse cx="212.16" cy="128.49" rx="4.5" ry="4.9" fill="url(#ring)"/>
<ellipse cx="212.16" cy="128.49" rx="2.65" ry="2.9" fill="#313131"/>
<ellipse cx="212.16" cy="146.28" rx="4.5" ry="4.9" fill="url(#ring)"/>
<ellipse cx="212.16" cy="146.28" rx="2.65" ry="2.9" fill="#313131"/>
<ellipse cx="212.16" cy="164.07" rx="4.5" ry="4.9" fill="url(#ring)"/>
<ellipse cx="212.16" cy="164.07" rx="2.65" ry="2.9" fill="#313131"/>
<ellipse cx="212.16" cy="181.86" rx="4.5" ry="4.9" fill="url(#ring)"/>
<ellipse cx="212.16" cy="181.86" rx="2.65" ry="2.9" fill="#313131"/>
<ellipse cx="212.16" cy="235.23" rx="4.5" ry="4.9" fill="url(#ring)"/>
<ellipse cx="212.16" cy="235.23" rx="2.65" ry="2.9" fill="#313131"/>
<ellipse cx="212.16" cy="253.02" rx="4.5" ry="4.9" fill="url(#ring)"/>
<ellipse cx="212.16" cy="253.02" rx="2.65" ry="2.9" fill="#313131"/>
<ellipse cx="212.16" cy="270.81" rx="4.5" ry="4.9" fill="url(#ring)"/>
<ellipse cx="212.16" cy="270.81" rx="2.65" ry="2.9" fill="#313131"/>
<ellipse cx="212.16" cy="288.60" rx="4.5" ry="4.9" fill="url(#ring)"/>
<ellipse cx="212.16" cy="288.60" rx="2.65" ry="2.9" fill="#313131"/>
<ellipse cx="212.16" cy="306.39" rx="4.5" ry="4.9" fill="url(#ring)"/>
<ellipse cx="212.16" cy="306.39" rx="2.65" ry="2.9" fill="#313131"/>
<ellipse cx="227.93" cy="110.70" rx="4.5" ry="4.9" fill="url(#ring)"/>
<ellipse cx="227.93" cy="110.70" rx="2.65" ry="2.9" fill="#313131"/>
<ellipse cx="227.93" cy="128.49" rx="4.5" ry="4.9" fill="url(#ring)"/>
<ellipse cx="227.93" cy="128.49" rx="2.65" ry="2.9" fill="#313131"/>
<ellipse cx="227.93" cy="146.28" rx="4.5" ry="4.9" fill="url(#ring)"/>
<ellipse cx="227.93" cy="146.28" rx="2.65" ry="2.9" fill="#313131"/>
<ellipse cx="227.93" cy="164.07" rx="4.5" ry="4.9" fill="url(#ring)"/>
<ellipse cx="227.93" cy="164.07" rx="2.65" ry="2.9" fill="#313131"/>
<ellipse cx="227.93" cy="181.86" rx="4.5" ry="4.9" fill="url(#ring)"/>
<ellipse cx="227.93" cy="181.86" rx="2.65" ry="2.9" fill="#313131"/>
<ellipse cx="227.93" cy="235.23" rx="4.5" ry="4.9" fill="url(#ring)"/>
<ellipse cx="227.93" cy="235.23" rx="2.65" ry="2.9" fill="#313131"/>
<ellipse cx="227.93" cy="253.02" rx="4.5" ry="4.9" fill="url(#ring)"/>
<ellipse cx="227.93" cy="253.02" rx="2.65" ry="2.9" fill="#313131"/>
<ellipse cx="227.93" cy="270.81" rx="4.5" ry="4.9" fill="url(#ring)"/>
<ellipse cx="227.93" cy="270.81" rx="2.65" ry="2.9" fill="#313131"/>
<ellipse cx="227.93" cy="288.60" rx="4.5" ry="4.9" fill="url(#ring)"/>
<ellipse cx="227.93" cy="288.60" rx="2.65" ry="2.9" fill="#313131"/>
<ellipse cx="227.93" cy="306.39" rx="4.5" ry="4.9" fill="url(#ring)"/>
<ellipse cx="227.93" cy="306.39" rx="2.65" ry="2.9" fill="#313131"/>
<ellipse cx="243.70" cy="110.70" rx="4.5" ry="4.9" fill="url(#ring)"/>
<ellipse cx="243.70" cy="110.70" rx="2.65" ry="2.9" fill="#313131"/>
<ellipse cx="243.70" cy="128.49" rx="4.5" ry="4.9" fill="url(#ring)"/>
<ellipse cx="243.70" cy="128.49" rx="2.65" ry="2.9" fill="#313131"/>
<ellipse cx="243.70" cy="146.28" rx="4.5" ry="4.9" fill="url(#ring)"/>
<ellipse cx="243.70" cy="146.28" rx="2.65" ry="2.9" fill="#313131"/>
<ellipse cx="243.70" cy="164.07" rx="4.5" ry="4.9" fill="url(#ring)"/>
<ellipse cx="243.70" cy="164.07" rx="2.65" ry="2.9" fill="#313131"/>
<ellipse cx="243.70" cy="181.86" rx="4.5" ry="4.9" fill="url(#ring)"/>
<ellipse cx="243.70" cy="181.86" rx="2.65" ry="2.9" fill="#313131"/>
<ellipse cx="243.70" cy="235.23" rx="4.5" ry="4.9" fill="url(#ring)"/>
<ellipse cx="243.70" cy="235.23" rx="2.65" ry="2.9" fill="#313131"/>
<ellipse cx="243.70" cy="253.02" rx="4.5" ry="4.9" fill="url(#ring)"/>
<ellipse cx="243.70" cy="253.02" rx="2.65" ry="2.9" fill="#313131"/>
<ellipse cx="243.70" cy="270.81" rx="4.5" ry="4.9" fill="url(#ring)"/>
<ellipse cx="243.70" cy="270.81" rx="2.65" ry="2.9" fill="#313131"/>
<ellipse cx="243.70" cy="288.60" rx="4.5" ry="4.9" fill="url(#ring)"/>
<ellipse cx="243.70" cy="288.60" rx="2.65" ry="2.9" fill="#313131"/>
<ellipse cx="243.70" cy="306.39" rx="4.5" ry="4.9" fill="url(#ring)"/>
<ellipse cx="243.70" cy="306.39" rx="2.65" ry="2.9" fill="#313131"/>
<ellipse cx="259.47" cy="110.70" rx="4.5" ry="4.9" fill="url(#ring)"/>
<ellipse cx="259.47" cy="110.70" rx="2.65" ry="2.9" fill="#313131"/>
<ellipse cx="259.47" cy="128.49" rx="4.5" ry="4.9" fill="url(#ring)"/>
<ellipse cx="259.47" cy="128.49" rx="2.65" ry="2.9" fill="#313131"/>
<ellipse cx="259.47" cy="146.28" rx="4.5" ry="4.9" fill="url(#ring)"/>
<ellipse cx="259.47" cy="146.28" rx="2.65" ry="2.9" fill="#313131"/>
<ellipse cx="259.47" cy="164.07" rx="4.5" ry="4.9" fill="url(#ring)"/>
<ellipse cx="259.47" cy="164.07" rx="2.65" ry="2.9" fill="#313131"/>
<ellipse cx="259.47" cy="181.86" rx="4.5" ry="4.9" fill="url(#ring)"/>
<ellipse cx="259.47" cy="181.86" rx="2.65" ry="2.9" fill="#313131"/>
<ellipse cx="259.47" cy="235.23" rx="4.5" ry="4.9" fill="url(#ring)"/>
<ellipse cx="259.47" cy="235.23" rx="2.65" ry="2.9" fill="#313131"/>
<ellipse cx="259.47" cy="253.02" rx="4.5" ry="4.9" fill="url(#ring)"/>
<ellipse cx="259.47" cy="253.02" rx="2.65" ry="2.9" fill="#313131"/>
<ellipse cx="259.47" cy="270.81" rx="4.5" ry="4.9" fill="url(#ring)"/>
<ellipse cx="259.47" cy="270.81" rx="2.65" ry="2.9" fill="#313131"/>
<ellipse cx="259.47" cy="288.60" rx="4.5" ry="4.9" fill="url(#ring)"/>
<ellipse cx="259.47" cy="288.60" rx="2.65" ry="2.9" fill="#313131"/>
<ellipse cx="259.47" cy="306.39" rx="4.5" ry="4.9" fill="url(#ring)"/>
<ellipse cx="259.47" cy="306.39" rx="2.65" ry="2.9" fill="#313131"/>
<ellipse cx="275.24" cy="110.70" rx="4.5" ry="4.9" fill="url(#ring)"/>
<ellipse cx="275.24" cy="110.70" rx="2.65" ry="2.9" fill="#313131"/>
<ellipse cx="275.24" cy="128.49" rx="4.5" ry="4.9" fill="url(#ring)"/>
<ellipse cx="275.24" cy="128.49" rx="2.65" ry="2.9" fill="#313131"/>
<ellipse cx="275.24" cy="146.28" rx="4.5" ry="4.9" fill="url(#ring)"/>
<ellipse cx="275.24" cy="146.28" rx="2.65" ry="2.9" fill="#313131"/>
<ellipse cx="275.24" cy="164.07" rx="4.5" ry="4.9" fill="url(#ring)"/>
<ellipse cx="275.24" cy="164.07" rx="2.65" ry="2.9" fill="#313131"/>
<ellipse cx="275.24" cy="181.86" rx="4.5" ry="4.9" fill="url(#ring)"/>
<ellipse cx="275.24" cy="181.86" rx="2.65" ry="2.9" fill="#313131"/>
<ellipse cx="275.24" cy="235.23" rx="4.5" ry="4.9" fill="url(#ring)"/>
<ellipse cx="275.24" cy="235.23" rx="2.65" ry="2.9" fill="#313131"/>
<ellipse cx="275.24" cy="253.02" rx="4.5" ry="4.9" fill="url(#ring)"/>
<ellipse cx="275.24" cy="253.02" rx="2.65" ry="2.9" fill="#313131"/>
<ellipse cx="275.24" cy="270.81" rx="4.5" ry="4.9" fill="url(#ring)"/>
<ellipse cx="275.24" cy="270.81" rx="2.65" ry="2.9" fill="#313131"/>
<ellipse cx="275.24" cy="288.60" rx="4.5" ry="4.9" fill="url(#ring)"/>
<ellipse cx="275.24" cy="288.60" rx="2.65" ry="2.9" fill="#313131"/>
<ellipse cx="275.24" cy="306.39" rx="4.5" ry="4.9" fill="url(#ring)"/>
<ellipse cx="275.24" cy="306.39" rx="2.65" ry="2.9" fill="#313131"/>
<ellipse cx="291.01" cy="110.70" rx="4.5" ry="4.9" fill="url(#ring)"/>
<ellipse cx="291.01" cy="110.70" rx="2.65" ry="2.9" fill="#313131"/>
<ellipse cx="291.01" cy="128.49" rx="4.5" ry="4.9" fill="url(#ring)"/>
<ellipse cx="291.01" cy="128.49" rx="2.65" ry="2.9" fill="#313131"/>
<ellipse cx="291.01" cy="146.28" rx="4.5" ry="4.9" fill="url(#ring)"/>
<ellipse cx="291.01" cy="146.28" rx="2.65" ry="2.9" fill="#313131"/>
<ellipse cx="291.01" cy="164.07" rx="4.5" ry="4.9" fill="url(#ring)"/>
<ellipse cx="291.01" cy="164.07" rx="2.65" ry="2.9" fill="#313131"/>
<ellipse cx="291.01" cy="181.86" rx="4.5" ry="4.9" fill="url(#ring)"/>
<ellipse cx="291.01" cy="181.86" rx="2.65" ry="2.9" fill="#313131"/>
<ellipse cx="291.01" cy="235.23" rx="4.5" ry="4.9" fill="url(#ring)"/>
<ellipse cx="291.01" cy="235.23" rx="2.65" ry="2.9" fill="#313131"/>
<ellipse cx="291.01" cy="253.02" rx="4.5" ry="4.9" fill="url(#ring)"/>
<ellipse cx="291.01" cy="253.02" rx="2.65" ry="2.9" fill="#313131"/>
<ellipse cx="291.01" cy="270.81" rx="4.5" ry="4.9" fill="url(#ring)"/>
<ellipse cx="291.01" cy="270.81" rx="2.65" ry="2.9" fill="#313131"/>
<ellipse cx="291.01" cy="288.60" rx="4.5" ry="4.9" fill="url(#ring)"/>
<ellipse cx="291.01" cy="288.60" rx="2.65" ry="2.9" fill="#313131"/>
<ellipse cx="291.01" cy="306.39" rx="4.5" ry="4.9" fill="url(#ring)"/>
<ellipse cx="291.01" cy="306.39" rx="2.65" ry="2.9" fill="#313131"/>
<ellipse cx="306.78" cy="110.70" rx="4.5" ry="4.9" fill="url(#ring)"/>
<ellipse cx="306.78" cy="110.70" rx="2.65" ry="2.9" fill="#313131"/>
<ellipse cx="306.78" cy="128.49" rx="4.5" ry="4.9" fill="url(#ring)"/>
<ellipse cx="306.78" cy="128.49" rx="2.65" ry="2.9" fill="#313131"/>
<ellipse cx="306.78" cy="146.28" rx="4.5" ry="4.9" fill="url(#ring)"/>
<ellipse cx="306.78" cy="146.28" rx="2.65" ry="2.9" fill="#313131"/>
<ellipse cx="306.78" cy="164.07" rx="4.5" ry="4.9" fill="url(#ring)"/>
<ellipse cx="306.78" cy="164.07" rx="2.65" ry="2.9" fill="#313131"/>
<ellipse cx="306.78" cy="181.86" rx="4.5" ry="4.9" fill="url(#ring)"/>
<ellipse cx="306.78" cy="181.86" rx="2.65" ry="2.9" fill="#313131"/>
<ellipse cx="306.78" cy="235.23" rx="4.5" ry="4.9" fill="url(#ring)"/>
<ellipse cx="306.78" cy="235.23" rx="2.65" ry="2.9" fill="#313131"/>
<ellipse cx="306.78" cy="253.02" rx="4.5" ry="4.9" fill="url(#ring)"/>
<ellipse cx="306.78" cy="253.02" rx="2.65" ry="2.9" fill="#313131"/>
<ellipse cx="306.78" cy="270.81" rx="4.5" ry="4.9" fill="url(#ring)"/>
<ellipse cx="306.78" cy="270.81" rx="2.65" ry="2.9" fill="#313131"/>
<ellipse cx="306.78" cy="288.60" rx="4.5" ry="4.9" fill="url(#ring)"/>
<ellipse cx="306.78" cy="288.60" rx="2.65" ry="2.9" fill="#313131"/>
<ellipse cx="306.78" cy="306.39" rx="4.5" ry="4.9" fill="url(#ring)"/>
<ellipse cx="306.78" cy="306.39" rx="2.65" ry="2.9" fill="#313131"/>
<ellipse cx="322.55" cy="110.70" rx="4.5" ry="4.9" fill="url(#ring)"/>
<ellipse cx="322.55" cy="110.70" rx="2.65" ry="2.9" fill="#313131"/>
<ellipse cx="322.55" cy="128.49" rx="4.5" ry="4.9" fill="url(#ring)"/>
<ellipse cx="322.55" cy="128.49" rx="2.65" ry="2.9" fill="#313131"/>
<ellipse cx="322.55" cy="146.28" rx="4.5" ry="4.9" fill="url(#ring)"/>
<ellipse cx="322.55" cy="146.28" rx="2.65" ry="2.9" fill="#313131"/>
<ellipse cx="322.55" cy="164.07" rx="4.5" ry="4.9" fill="url(#ring)"/>
<ellipse cx="322.55" cy="164.07" rx="2.65" ry="2.9" fill="#313131"/>
<ellipse cx="322.55" cy="181.86" rx="4.5" ry="4.9" fill="url(#ring)"/>
<ellipse cx="322.55" cy="181.86" rx="2.65" ry="2.9" fill="#313131"/>
<ellipse cx="322.55" cy="235.23" rx="4.5" ry="4.9" fill="url(#ring)"/>
<ellipse cx="322.55" cy="235.23" rx="2.65" ry="2.9" fill="#313131"/>
<ellipse cx="322.55" cy="253.02" rx="4.5" ry="4.9" fill="url(#ring)"/>
<ellipse cx="322.55" cy="253.02" rx="2.65" ry="2.9" fill="#313131"/>
<ellipse cx="322.55" cy="270.81" rx="4.5" ry="4.9" fill="url(#ring)"/>
<ellipse cx="322.55" cy="270.81" rx="2.65" ry="2.9" fill="#313131"/>
<ellipse cx="322.55" cy="288.60" rx="4.5" ry="4.9" fill="url(#ring)"/>
<ellipse cx="322.55" cy="288.60" rx="2.65" ry="2.9" fill="#313131"/>
<ellipse cx="322.55" cy="306.39" rx="4.5" ry="4.9" fill="url(#ring)"/>
<ellipse cx="322.55" cy="306.39" rx="2.65" ry="2.9" fill="#313131"/>
<ellipse cx="338.32" cy="110.70" rx="4.5" ry="4.9" fill="url(#ring)"/>
<ellipse cx="338.32" cy="110.70" rx="2.65" ry="2.9" fill="#313131"/>
<ellipse cx="338.32" cy="270.81" rx="4.5" ry="4.9" fill="url(#ring)"/>
<ellipse cx="338.32" cy="270.81" rx="2.65" ry="2.9" fill="#313131"/>
<ellipse cx="338.32" cy="288.60" rx="4.5" ry="4.9" fill="url(#ring)"/>
<ellipse cx="338.32" cy="288.60" rx="2.65" ry="2.9" fill="#313131"/>
<ellipse cx="338.32" cy="306.39" rx="4.5" ry="4.9" fill="url(#ring)"/>
<ellipse cx="338.32" cy="306.39" rx="2.65" ry="2.9" fill="#313131"/>
<circle cx="354.09" cy="110.70" r="6.2" fill="url(#hg)"/>
<ellipse cx="354.09" cy="110.70" rx="2.8" ry="2.9" fill="#145614"/>
<circle cx="354.09" cy="270.81" r="6.2" fill="url(#hg)"/>
<ellipse cx="354.09" cy="270.81" rx="2.8" ry="2.9" fill="#145614"/>
<circle cx="354.09" cy="288.60" r="6.2" fill="url(#hg)"/>
<ellipse cx="354.09" cy="288.60" rx="2.8" ry="2.9" fill="#145614"/>
<circle cx="354.09" cy="306.39" r="6.2" fill="url(#hg)"/>
<ellipse cx="354.09" cy="306.39" rx="2.8" ry="2.9" fill="#145614"/>
<circle cx="369.86" cy="110.70" r="6.2" fill="url(#hg)"/>
<ellipse cx="369.86" cy="110.70" rx="2.8" ry="2.9" fill="#145614"/>
<circle cx="369.86" cy="270.81" r="6.2" fill="url(#hg)"/>
<ellipse cx="369.86" cy="270.81" rx="2.8" ry="2.9" fill="#145614"/>
<circle cx="369.86" cy="288.60" r="6.2" fill="url(#hg)"/>
<ellipse cx="369.86" cy="288.60" rx="2.8" ry="2.9" fill="#145614"/>
<circle cx="369.86" cy="306.39" r="6.2" fill="url(#hg)"/>
<ellipse cx="369.86" cy="306.39" rx="2.8" ry="2.9" fill="#145614"/>
<circle cx="385.63" cy="110.70" r="6.2" fill="url(#hg)"/>
<ellipse cx="385.63" cy="110.70" rx="2.8" ry="2.9" fill="#145614"/>
<circle cx="385.63" cy="270.81" r="6.2" fill="url(#hg)"/>
<ellipse cx="385.63" cy="270.81" rx="2.8" ry="2.9" fill="#145614"/>
<circle cx="385.63" cy="288.60" r="6.2" fill="url(#hg)"/>
<ellipse cx="385.63" cy="288.60" rx="2.8" ry="2.9" fill="#145614"/>
<circle cx="385.63" cy="306.39" r="6.2" fill="url(#hg)"/>
<ellipse cx="385.63" cy="306.39" rx="2.8" ry="2.9" fill="#145614"/>
<circle cx="401.40" cy="110.70" r="6.2" fill="url(#hg)"/>
<ellipse cx="401.40" cy="110.70" rx="2.8" ry="2.9" fill="#145614"/>
<circle cx="401.40" cy="270.81" r="6.2" fill="url(#hg)"/>
<ellipse cx="401.40" cy="270.81" rx="2.8" ry="2.9" fill="#145614"/>
<circle cx="401.40" cy="288.60" r="6.2" fill="url(#hg)"/>
<ellipse cx="401.40" cy="288.60" rx="2.8" ry="2.9" fill="#145614"/>
<circle cx="401.40" cy="306.39" r="6.2" fill="url(#hg)"/>
<ellipse cx="401.40" cy="306.39" rx="2.8" ry="2.9" fill="#145614"/>
<circle cx="417.17" cy="110.70" r="6.2" fill="url(#hg)"/>
<ellipse cx="417.17" cy="110.70" rx="2.8" ry="2.9" fill="#145614"/>
<circle cx="417.17" cy="270.81" r="6.2" fill="url(#hg)"/>
<ellipse cx="417.17" cy="270.81" rx="2.8" ry="2.9" fill="#145614"/>
<circle cx="417.17" cy="288.60" r="6.2" fill="url(#hg)"/>
<ellipse cx="417.17" cy="288.60" rx="2.8" ry="2.9" fill="#145614"/>
<circle cx="417.17" cy="306.39" r="6.2" fill="url(#hg)"/>
<ellipse cx="417.17" cy="306.39" rx="2.8" ry="2.9" fill="#145614"/>
<circle cx="432.94" cy="110.70" r="6.2" fill="url(#hg)"/>
<ellipse cx="432.94" cy="110.70" rx="2.8" ry="2.9" fill="#145614"/>
<circle cx="432.94" cy="270.81" r="6.2" fill="url(#hg)"/>
<ellipse cx="432.94" cy="270.81" rx="2.8" ry="2.9" fill="#145614"/>
<circle cx="432.94" cy="288.60" r="6.2" fill="url(#hg)"/>
<ellipse cx="432.94" cy="288.60" rx="2.8" ry="2.9" fill="#145614"/>
<circle cx="432.94" cy="306.39" r="6.2" fill="url(#hg)"/>
<ellipse cx="432.94" cy="306.39" rx="2.8" ry="2.9" fill="#145614"/>
<circle cx="448.71" cy="110.70" r="6.2" fill="url(#hg)"/>
<ellipse cx="448.71" cy="110.70" rx="2.8" ry="2.9" fill="#145614"/>
<circle cx="448.71" cy="270.81" r="6.2" fill="url(#hg)"/>
<ellipse cx="448.71" cy="270.81" rx="2.8" ry="2.9" fill="#145614"/>
<circle cx="448.71" cy="288.60" r="6.2" fill="url(#hg)"/>
<ellipse cx="448.71" cy="288.60" rx="2.8" ry="2.9" fill="#145614"/>
<circle cx="448.71" cy="306.39" r="6.2" fill="url(#hg)"/>
<ellipse cx="448.71" cy="306.39" rx="2.8" ry="2.9" fill="#145614"/>
<circle cx="464.48" cy="110.70" r="6.2" fill="url(#hg)"/>
<ellipse cx="464.48" cy="110.70" rx="2.8" ry="2.9" fill="#145614"/>
<circle cx="464.48" cy="270.81" r="6.2" fill="url(#hg)"/>
<ellipse cx="464.48" cy="270.81" rx="2.8" ry="2.9" fill="#145614"/>
<circle cx="464.48" cy="288.60" r="6.2" fill="url(#hg)"/>
<ellipse cx="464.48" cy="288.60" rx="2.8" ry="2.9" fill="#145614"/>
<circle cx="464.48" cy="306.39" r="6.2" fill="url(#hg)"/>
<ellipse cx="464.48" cy="306.39" rx="2.8" ry="2.9" fill="#145614"/>
<circle cx="480.25" cy="110.70" r="6.2" fill="url(#hg)"/>
<ellipse cx="480.25" cy="110.70" rx="2.8" ry="2.9" fill="#145614"/>
<circle cx="480.25" cy="270.81" r="6.2" fill="url(#hg)"/>
<ellipse cx="480.25" cy="270.81" rx="2.8" ry="2.9" fill="#145614"/>
<circle cx="480.25" cy="288.60" r="6.2" fill="url(#hg)"/>
<ellipse cx="480.25" cy="288.60" rx="2.8" ry="2.9" fill="#145614"/>
<circle cx="480.25" cy="306.39" r="6.2" fill="url(#hg)"/>
<ellipse cx="480.25" cy="306.39" rx="2.8" ry="2.9" fill="#145614"/>
<circle cx="496.02" cy="110.70" r="6.2" fill="url(#hg)"/>
<ellipse cx="496.02" cy="110.70" rx="2.8" ry="2.9" fill="#145614"/>
<circle cx="496.02" cy="270.81" r="6.2" fill="url(#hg)"/>
<ellipse cx="496.02" cy="270.81" rx="2.8" ry="2.9" fill="#145614"/>
<circle cx="496.02" cy="288.60" r="6.2" fill="url(#hg)"/>
<ellipse cx="496.02" cy="288.60" rx="2.8" ry="2.9" fill="#145614"/>
<circle cx="496.02" cy="306.39" r="6.2" fill="url(#hg)"/>
<ellipse cx="496.02" cy="306.39" rx="2.8" ry="2.9" fill="#145614"/>
<circle cx="511.79" cy="110.70" r="6.2" fill="url(#hg)"/>
<ellipse cx="511.79" cy="110.70" rx="2.8" ry="2.9" fill="#145614"/>
<circle cx="511.79" cy="270.81" r="6.2" fill="url(#hg)"/>
<ellipse cx="511.79" cy="270.81" rx="2.8" ry="2.9" fill="#145614"/>
<circle cx="511.79" cy="288.60" r="6.2" fill="url(#hg)"/>
<ellipse cx="511.79" cy="288.60" rx="2.8" ry="2.9" fill="#145614"/>
<circle cx="511.79" cy="306.39" r="6.2" fill="url(#hg)"/>
<ellipse cx="511.79" cy="306.39" rx="2.8" ry="2.9" fill="#145614"/>
<circle cx="527.56" cy="110.70" r="6.2" fill="url(#hg)"/>
<ellipse cx="527.56" cy="110.70" rx="2.8" ry="2.9" fill="#145614"/>
<circle cx="527.56" cy="270.81" r="6.2" fill="url(#hg)"/>
<ellipse cx="527.56" cy="270.81" rx="2.8" ry="2.9" fill="#145614"/>
<circle cx="527.56" cy="288.60" r="6.2" fill="url(#hg)"/>
<ellipse cx="527.56" cy="288.60" rx="2.8" ry="2.9" fill="#145614"/>
<circle cx="527.56" cy="306.39" r="6.2" fill="url(#hg)"/>
<ellipse cx="527.56" cy="306.39" rx="2.8" ry="2.9" fill="#145614"/>
<ellipse cx="543.33" cy="110.70" rx="4.5" ry="4.9" fill="url(#ring)"/>
<ellipse cx="543.33" cy="110.70" rx="2.65" ry="2.9" fill="#313131"/>
<ellipse cx="543.33" cy="270.81" rx="4.5" ry="4.9" fill="url(#ring)"/>
<ellipse cx="543.33" cy="270.81" rx="2.65" ry="2.9" fill="#313131"/>
<ellipse cx="543.33" cy="288.60" rx="4.5" ry="4.9" fill="url(#ring)"/>
<ellipse cx="543.33" cy="288.60" rx="2.65" ry="2.9" fill="#313131"/>
<ellipse cx="543.33" cy="306.39" rx="4.5" ry="4.9" fill="url(#ring)"/>
<ellipse cx="543.33" cy="306.39" rx="2.65" ry="2.9" fill="#313131"/>
<text x="86.00" y="0" transform="translate(0 98.90) scale(1 1.13)" font-size="9.8" fill="#bdbdbd" text-anchor="middle">1</text>
<text x="86.00" y="0" transform="translate(0 323.60) scale(1 1.13)" font-size="9.8" fill="#bdbdbd" text-anchor="middle">1</text>
<text x="149.08" y="0" transform="translate(0 98.90) scale(1 1.13)" font-size="9.8" fill="#bdbdbd" text-anchor="middle">5</text>
<text x="149.08" y="0" transform="translate(0 323.60) scale(1 1.13)" font-size="9.8" fill="#bdbdbd" text-anchor="middle">5</text>
<text x="227.93" y="0" transform="translate(0 98.90) scale(1 1.13)" font-size="9.8" fill="#bdbdbd" text-anchor="middle">10</text>
<text x="227.93" y="0" transform="translate(0 323.60) scale(1 1.13)" font-size="9.8" fill="#bdbdbd" text-anchor="middle">10</text>
<text x="306.78" y="0" transform="translate(0 98.90) scale(1 1.13)" font-size="9.8" fill="#bdbdbd" text-anchor="middle">15</text>
<text x="306.78" y="0" transform="translate(0 323.60) scale(1 1.13)" font-size="9.8" fill="#bdbdbd" text-anchor="middle">15</text>
<text x="385.63" y="0" transform="translate(0 98.90) scale(1 1.13)" font-size="9.8" fill="#bdbdbd" text-anchor="middle">20</text>
<text x="385.63" y="0" transform="translate(0 323.60) scale(1 1.13)" font-size="9.8" fill="#bdbdbd" text-anchor="middle">20</text>
<text x="464.48" y="0" transform="translate(0 98.90) scale(1 1.13)" font-size="9.8" fill="#bdbdbd" text-anchor="middle">25</text>
<text x="464.48" y="0" transform="translate(0 323.60) scale(1 1.13)" font-size="9.8" fill="#bdbdbd" text-anchor="middle">25</text>
<text x="543.33" y="0" transform="translate(0 98.90) scale(1 1.13)" font-size="9.8" fill="#bdbdbd" text-anchor="middle">30</text>
<text x="543.33" y="0" transform="translate(0 323.60) scale(1 1.13)" font-size="9.8" fill="#bdbdbd" text-anchor="middle">30</text>
<text x="42.60" y="0" transform="translate(0 114.30) scale(1 1.13)" font-size="9.3" fill="#bdbdbd" text-anchor="middle">A</text>
<text x="42.60" y="0" transform="translate(0 132.09) scale(1 1.13)" font-size="9.3" fill="#bdbdbd" text-anchor="middle">B</text>
<text x="42.60" y="0" transform="translate(0 149.88) scale(1 1.13)" font-size="9.3" fill="#bdbdbd" text-anchor="middle">C</text>
<text x="42.60" y="0" transform="translate(0 167.67) scale(1 1.13)" font-size="9.3" fill="#bdbdbd" text-anchor="middle">D</text>
<text x="42.60" y="0" transform="translate(0 185.46) scale(1 1.13)" font-size="9.3" fill="#bdbdbd" text-anchor="middle">E</text>
<text x="42.60" y="0" transform="translate(0 238.83) scale(1 1.13)" font-size="9.3" fill="#bdbdbd" text-anchor="middle">F</text>
<text x="42.60" y="0" transform="translate(0 256.62) scale(1 1.13)" font-size="9.3" fill="#bdbdbd" text-anchor="middle">G</text>
<text x="42.60" y="0" transform="translate(0 274.41) scale(1 1.13)" font-size="9.3" fill="#bdbdbd" text-anchor="middle">H</text>
<text x="42.60" y="0" transform="translate(0 292.20) scale(1 1.13)" font-size="9.3" fill="#bdbdbd" text-anchor="middle">I</text>
<text x="42.60" y="0" transform="translate(0 309.99) scale(1 1.13)" font-size="9.3" fill="#bdbdbd" text-anchor="middle">J</text>
<rect x="78.2" y="155" width="63.3" height="88.5" fill="#d42619"/>
<path d="M93.77,159.00 L97.37,154.70 L106.17,154.70 L109.77,159.00 L113.14,154.70 L121.94,154.70 L125.54,159.00 L125.54,169.00 L121.94,173.30 L113.14,173.30 L109.54,169.00 L106.17,173.30 L97.37,173.30 L93.77,169.00 Z" fill="none" stroke="#fbd9d2" stroke-width="1.1"/>
<circle cx="101.77" cy="164.00" r="6.4" fill="#a8321f"/>
<circle cx="101.77" cy="164.00" r="5.3" fill="#62c862"/>
<circle cx="101.77" cy="164.00" r="3.9" fill="#4cb84c"/>
<circle cx="101.77" cy="164.00" r="2.6" fill="#1d6a1d"/>
<circle cx="117.54" cy="164.00" r="6.4" fill="#a8321f"/>
<circle cx="117.54" cy="164.00" r="5.3" fill="#62c862"/>
<circle cx="117.54" cy="164.00" r="3.9" fill="#4cb84c"/>
<circle cx="117.54" cy="164.00" r="2.6" fill="#1d6a1d"/>
<path d="M78.00,230.00 L81.60,225.70 L90.40,225.70 L94.00,230.00 L97.37,225.70 L106.17,225.70 L109.77,230.00 L113.14,225.70 L121.94,225.70 L125.54,230.00 L128.91,225.70 L137.71,225.70 L141.31,230.00 L141.31,240.00 L137.71,244.30 L128.91,244.30 L125.31,240.00 L121.94,244.30 L113.14,244.30 L109.54,240.00 L106.17,244.30 L97.37,244.30 L93.77,240.00 L90.40,244.30 L81.60,244.30 L78.00,240.00 Z" fill="none" stroke="#fbd9d2" stroke-width="1.1"/>
<rect x="80.00" y="228.20" width="12" height="13.6" rx="2" fill="#8a8a3a"/>
<circle cx="86.00" cy="235.00" r="5.3" fill="#62c862"/>
<circle cx="86.00" cy="235.00" r="3.9" fill="#4cb84c"/>
<circle cx="86.00" cy="235.00" r="2.6" fill="#1d6a1d"/>
<circle cx="101.77" cy="235.00" r="6.4" fill="#a8321f"/>
<circle cx="101.77" cy="235.00" r="5.3" fill="#62c862"/>
<circle cx="101.77" cy="235.00" r="3.9" fill="#4cb84c"/>
<circle cx="101.77" cy="235.00" r="2.6" fill="#1d6a1d"/>
<circle cx="117.54" cy="235.00" r="6.4" fill="#a8321f"/>
<circle cx="117.54" cy="235.00" r="5.3" fill="#62c862"/>
<circle cx="117.54" cy="235.00" r="3.9" fill="#4cb84c"/>
<circle cx="117.54" cy="235.00" r="2.6" fill="#1d6a1d"/>
<circle cx="133.31" cy="235.00" r="6.4" fill="#a8321f"/>
<circle cx="133.31" cy="235.00" r="5.3" fill="#62c862"/>
<circle cx="133.31" cy="235.00" r="3.9" fill="#4cb84c"/>
<circle cx="133.31" cy="235.00" r="2.6" fill="#1d6a1d"/>
<rect x="104.6" y="193.2" width="7.6" height="12.6" rx="1" fill="#2a2a2a"/><rect x="106" y="194.6" width="4.8" height="9.8" fill="#3a3a3a"/>
<circle cx="96.7" cy="185.8" r="1.6" fill="#fff"/>
<rect x="96.1" y="210" width="1" height="4" fill="#e4958c"/>
<rect x="120.1" y="210" width="1" height="4" fill="#e4958c"/>
<rect x="120.1" y="183" width="1" height="4" fill="#e4958c"/>
<path d="M126.4,203 C126,199 126.5,194 128.3,190.6 C129,189.4 130.3,189.6 130.9,188.9 C131.3,188 129.6,187.5 129.7,185.9 C129.8,184.3 130.6,183.2 132,182.9 C133,182.7 134,182.9 134.7,183.4 C133.7,183.9 133.6,184.9 134.3,185.4 C136.6,186.1 137.7,188 137.6,190.5 C137.5,194 136,196.8 133,198.2 C131,199.2 128.5,200.5 126.4,203 Z" fill="#fff"/>
<circle cx="129.6" cy="190.5" r="1.35" fill="#d42619"/><circle cx="134.5" cy="185.6" r="0.9" fill="#d42619"/>
<text x="0.4" y="207.3" font-size="22.2" fill="#111" textLength="75.8" lengthAdjust="spacingAndGlyphs">TMP102</text>
<path d="M344.2,120 H554 V261.8 H346 L330,252.7 V129 Z" fill="#3a3a3a"/>
<rect x="333.2" y="188.6" width="12.8" height="56.2" fill="#dcdcdc"/>
<rect x="333.2" y="188.6" width="12.8" height="3.4" fill="#b2b2b2"/>
<rect x="333.2" y="197.2" width="12.8" height="6.3" fill="#dfa228"/>
<rect x="333.2" y="240.8" width="12.8" height="4" fill="#a9a9a9"/>
<rect x="333.4" y="137.8" width="13.7" height="20.5" rx="1" fill="#e6e2da"/>
<rect x="346.6" y="145.5" width="1.5" height="4.5" fill="#e6e2da"/>
<ellipse cx="340.2" cy="147.8" rx="4.3" ry="4.8" fill="#efece6" stroke="#b8b4c0" stroke-width="0.7"/>
<circle cx="340.2" cy="147.8" r="1.2" fill="#d39a2a"/>
<rect x="357" y="147" width="2" height="5" fill="#5e5e5e"/>
<rect x="364.5" y="144.9" width="3" height="7" fill="#5e5e5e"/>
<rect x="359.4" y="158.3" width="5.6" height="5.7" fill="#5e5e5e"/>
<rect x="369" y="160" width="3.6" height="2.6" fill="#5e5e5e"/>
<rect x="351" y="164" width="3.6" height="2" fill="#5e5e5e"/>
<rect x="334.4" y="171" width="6.7" height="3.8" fill="#5e5e5e"/>
<rect x="345" y="171" width="6.7" height="3.8" fill="#5e5e5e"/>
<rect x="353.9" y="171.7" width="4.2" height="7.3" fill="#5e5e5e"/>
<rect x="363" y="176" width="4.2" height="7" fill="#5e5e5e"/>
<rect x="369.3" y="178" width="4.3" height="7.9" fill="#5e5e5e"/>
<rect x="363" y="190.7" width="5.3" height="10.6" fill="#5e5e5e"/>
<rect x="364.5" y="213.4" width="7" height="4.3" fill="#5e5e5e"/>
<rect x="360.9" y="226.8" width="9.5" height="5.2" fill="#5e5e5e"/>
<rect x="364" y="234.2" width="7.5" height="3.8" fill="#5e5e5e"/>
<rect x="358.7" y="160" width="6.3" height="4.2" fill="#5e5e5e"/>
<rect x="351.3" y="163.8" width="5.7" height="2.6" fill="#5e5e5e"/>
<rect x="369.3" y="160" width="3.7" height="3" fill="#5e5e5e"/>
<rect x="459.5" y="149.9" width="6.5" height="3.6" fill="#5e5e5e"/>
<rect x="459.5" y="169" width="6.5" height="3.6" fill="#5e5e5e"/>
<rect x="459.5" y="175" width="6.5" height="3.6" fill="#5e5e5e"/>
<rect x="459.5" y="185.4" width="6.5" height="3.6" fill="#5e5e5e"/>
<rect x="459.5" y="193.2" width="6.5" height="3.6" fill="#5e5e5e"/>
<rect x="459.5" y="202.2" width="6.5" height="3.6" fill="#5e5e5e"/>
<rect x="459.5" y="210" width="6.5" height="3.6" fill="#5e5e5e"/>
<rect x="503.5" y="208" width="10.5" height="5" fill="#5e5e5e"/>
<rect x="503.5" y="197.6" width="6.5" height="4.1" fill="#5e5e5e"/>
<rect x="497.6" y="228.2" width="3" height="7" fill="#5e5e5e"/>
<rect x="509" y="228.2" width="3" height="7" fill="#5e5e5e"/>
<rect x="515.5" y="228.2" width="3" height="7" fill="#5e5e5e"/>
<rect x="520.1" y="146.3" width="3.5" height="6.3" fill="#5e5e5e"/>
<rect x="526.7" y="146.6" width="5.1" height="11.3" fill="#5e5e5e"/>
<rect x="535.5" y="130.6" width="13.7" height="25.3" fill="#5e5e5e"/>
<rect x="395.2" y="144.6" width="4.2" height="4.2" fill="#dca033"/>
<rect x="402.8" y="144.6" width="4.2" height="4.2" fill="#dca033"/>
<rect x="410.4" y="144.6" width="4.2" height="4.2" fill="#dca033"/>
<rect x="377.6" y="152.8" width="73.8" height="75.5" fill="#1f761f"/>
<rect x="379.3" y="154.3" width="69.8" height="72.1" fill="#c0c0c0"/>
<path d="M430,154.3 C417,163 411,177 410.5,195 C410,210 407,219 403,226.4 L449.1,226.4 L449.1,154.3 Z" fill="#d8d8d8"/>
<rect x="379.3" y="154.3" width="3.5" height="3.5" fill="#f0f0f0"/>
<g fill="#505050"><rect x="389.20" y="166.00" width="1.55" height="1.58"/><rect x="389.20" y="169.16" width="1.55" height="1.58"/><rect x="389.20" y="173.90" width="1.55" height="1.58"/><rect x="389.20" y="175.48" width="1.55" height="1.58"/><rect x="389.20" y="178.64" width="1.55" height="1.58"/><rect x="389.20" y="180.22" width="1.55" height="1.58"/><rect x="389.20" y="183.38" width="1.55" height="1.58"/><rect x="389.20" y="186.54" width="1.55" height="1.58"/><rect x="390.75" y="166.00" width="1.55" height="1.58"/><rect x="390.75" y="175.48" width="1.55" height="1.58"/><rect x="390.75" y="180.22" width="1.55" height="1.58"/><rect x="390.75" y="181.80" width="1.55" height="1.58"/><rect x="390.75" y="184.96" width="1.55" height="1.58"/><rect x="392.30" y="169.16" width="1.55" height="1.58"/><rect x="392.30" y="172.32" width="1.55" height="1.58"/><rect x="392.30" y="177.06" width="1.55" height="1.58"/><rect x="392.30" y="178.64" width="1.55" height="1.58"/><rect x="392.30" y="180.22" width="1.55" height="1.58"/><rect x="392.30" y="183.38" width="1.55" height="1.58"/><rect x="392.30" y="186.54" width="1.55" height="1.58"/><rect x="393.85" y="166.00" width="1.55" height="1.58"/><rect x="393.85" y="167.58" width="1.55" height="1.58"/><rect x="393.85" y="181.80" width="1.55" height="1.58"/><rect x="395.40" y="167.58" width="1.55" height="1.58"/><rect x="395.40" y="172.32" width="1.55" height="1.58"/><rect x="395.40" y="173.90" width="1.55" height="1.58"/><rect x="395.40" y="178.64" width="1.55" height="1.58"/><rect x="395.40" y="181.80" width="1.55" height="1.58"/><rect x="395.40" y="183.38" width="1.55" height="1.58"/><rect x="395.40" y="184.96" width="1.55" height="1.58"/><rect x="396.95" y="166.00" width="1.55" height="1.58"/><rect x="396.95" y="169.16" width="1.55" height="1.58"/><rect x="396.95" y="172.32" width="1.55" height="1.58"/><rect x="396.95" y="180.22" width="1.55" height="1.58"/><rect x="396.95" y="181.80" width="1.55" height="1.58"/><rect x="396.95" y="184.96" width="1.55" height="1.58"/><rect x="396.95" y="186.54" width="1.55" height="1.58"/><rect x="396.95" y="188.12" width="1.55" height="1.58"/><rect x="398.50" y="167.58" width="1.55" height="1.58"/><rect x="398.50" y="169.16" width="1.55" height="1.58"/><rect x="398.50" y="172.32" width="1.55" height="1.58"/><rect x="398.50" y="177.06" width="1.55" height="1.58"/><rect x="398.50" y="178.64" width="1.55" height="1.58"/><rect x="400.05" y="167.58" width="1.55" height="1.58"/><rect x="400.05" y="170.74" width="1.55" height="1.58"/><rect x="400.05" y="172.32" width="1.55" height="1.58"/><rect x="400.05" y="178.64" width="1.55" height="1.58"/><rect x="400.05" y="180.22" width="1.55" height="1.58"/><rect x="400.05" y="183.38" width="1.55" height="1.58"/><rect x="400.05" y="188.12" width="1.55" height="1.58"/><rect x="401.60" y="167.58" width="1.55" height="1.58"/><rect x="401.60" y="170.74" width="1.55" height="1.58"/><rect x="401.60" y="175.48" width="1.55" height="1.58"/><rect x="401.60" y="177.06" width="1.55" height="1.58"/><rect x="401.60" y="181.80" width="1.55" height="1.58"/><rect x="401.60" y="183.38" width="1.55" height="1.58"/><rect x="401.60" y="186.54" width="1.55" height="1.58"/><rect x="401.60" y="188.12" width="1.55" height="1.58"/><rect x="403.15" y="166.00" width="1.55" height="1.58"/><rect x="403.15" y="167.58" width="1.55" height="1.58"/><rect x="403.15" y="170.74" width="1.55" height="1.58"/><rect x="403.15" y="172.32" width="1.55" height="1.58"/><rect x="403.15" y="175.48" width="1.55" height="1.58"/><rect x="403.15" y="180.22" width="1.55" height="1.58"/><rect x="403.15" y="181.80" width="1.55" height="1.58"/><rect x="403.15" y="184.96" width="1.55" height="1.58"/><rect x="403.15" y="186.54" width="1.55" height="1.58"/><rect x="403.15" y="188.12" width="1.55" height="1.58"/><rect x="404.70" y="167.58" width="1.55" height="1.58"/><rect x="404.70" y="169.16" width="1.55" height="1.58"/><rect x="404.70" y="170.74" width="1.55" height="1.58"/><rect x="404.70" y="173.90" width="1.55" height="1.58"/><rect x="404.70" y="177.06" width="1.55" height="1.58"/><rect x="404.70" y="178.64" width="1.55" height="1.58"/><rect x="404.70" y="183.38" width="1.55" height="1.58"/><rect x="404.70" y="184.96" width="1.55" height="1.58"/><rect x="404.70" y="186.54" width="1.55" height="1.58"/><rect x="406.25" y="166.00" width="1.55" height="1.58"/><rect x="406.25" y="170.74" width="1.55" height="1.58"/><rect x="406.25" y="172.32" width="1.55" height="1.58"/><rect x="406.25" y="178.64" width="1.55" height="1.58"/><rect x="406.25" y="180.22" width="1.55" height="1.58"/><rect x="406.25" y="181.80" width="1.55" height="1.58"/><rect x="406.25" y="184.96" width="1.55" height="1.58"/><rect x="406.25" y="186.54" width="1.55" height="1.58"/><rect x="406.25" y="188.12" width="1.55" height="1.58"/><rect x="407.80" y="166.00" width="1.55" height="1.58"/><rect x="407.80" y="167.58" width="1.55" height="1.58"/><rect x="407.80" y="170.74" width="1.55" height="1.58"/><rect x="407.80" y="172.32" width="1.55" height="1.58"/><rect x="407.80" y="178.64" width="1.55" height="1.58"/><rect x="407.80" y="183.38" width="1.55" height="1.58"/><rect x="409.35" y="167.58" width="1.55" height="1.58"/><rect x="409.35" y="169.16" width="1.55" height="1.58"/><rect x="409.35" y="170.74" width="1.55" height="1.58"/><rect x="409.35" y="172.32" width="1.55" height="1.58"/><rect x="409.35" y="175.48" width="1.55" height="1.58"/><rect x="409.35" y="178.64" width="1.55" height="1.58"/></g>
<circle cx="439.2" cy="165.1" r="2.1" fill="#333"/>
<path d="M429.00,182.10 L430.48,190.82 L439.20,192.30 L430.48,193.78 L429.00,202.50 L427.52,193.78 L418.80,192.30 L427.52,190.82 Z" fill="#555"/>
<path d="M435.51,185.79 L431.50,192.30 L435.51,198.81 L429.00,194.80 L422.49,198.81 L426.50,192.30 L422.49,185.79 L429.00,189.80 Z" fill="#555"/>
<g fill="#7d7d7d" font-size="4.3"><text transform="translate(413.2,186.5) rotate(90) scale(1.1 1)" font-size="6.2">P0</text><text transform="translate(402.4,194) rotate(90)">82010A</text><text transform="translate(397.7,194) rotate(90)">BIA 00.6</text><text transform="translate(393.2,194) rotate(90)">S73</text><text transform="translate(407,206) rotate(90)" font-size="5.5" font-weight="bold">USI</text></g>
<path d="M407.5,197 L412.5,199.5 L412.5,205 L407.5,203 Z M409,199 L411.2,200.2 L411.2,203 Z" fill="none" stroke="#707070" stroke-width="0.8"/>
<rect x="475" y="146.5" width="18.7" height="26.7" fill="#c6c6c6"/>
<rect x="476" y="147.5" width="16.7" height="24.7" fill="#cfcfcf"/>
<circle cx="484.35" cy="159.8" r="5.6" fill="#363636"/>
<rect x="476.5" y="145.0" width="3" height="2.2" fill="#d8d8d8"/><rect x="476.5" y="172.5" width="3" height="2.2" fill="#d8d8d8"/>
<rect x="489.2" y="145.0" width="3" height="2.2" fill="#d8d8d8"/><rect x="489.2" y="172.5" width="3" height="2.2" fill="#d8d8d8"/>
<rect x="475" y="208" width="18.7" height="25.9" fill="#c6c6c6"/>
<rect x="476" y="209" width="16.7" height="23.9" fill="#cfcfcf"/>
<circle cx="484.35" cy="221.7" r="5.6" fill="#363636"/>
<rect x="476.5" y="206.5" width="3" height="2.2" fill="#d8d8d8"/><rect x="476.5" y="233.20000000000002" width="3" height="2.2" fill="#d8d8d8"/>
<rect x="489.2" y="206.5" width="3" height="2.2" fill="#d8d8d8"/><rect x="489.2" y="233.20000000000002" width="3" height="2.2" fill="#d8d8d8"/>
<text transform="translate(495.6,147.6) rotate(90) scale(1.05 1)" font-size="6.1" fill="#2b86c8">SETUP</text>
<text transform="translate(495.6,203.5) rotate(90) scale(1.05 1)" font-size="6.1" fill="#2b86c8">RESET</text>
<rect x="501.5" y="151.7" width="17.5" height="12.2" fill="#5a5a5a"/>
<rect x="502.5" y="147.4" width="3" height="3.2" fill="#e8e8e8"/>
<rect x="514.5" y="147.4" width="3" height="3.2" fill="#e8e8e8"/>
<rect x="502.5" y="165" width="3" height="3.2" fill="#e8e8e8"/>
<rect x="508.5" y="165" width="3" height="3.2" fill="#e8e8e8"/>
<rect x="514.5" y="165" width="3" height="3.2" fill="#e8e8e8"/>
<rect x="501.2" y="174.4" width="13.4" height="20.8" rx="3.6" fill="#565656"/>
<rect x="478.9" y="184" width="10.9" height="12.5" fill="#111"/><rect x="480.2" y="185.4" width="8.3" height="9.7" fill="#f4f4f4"/>
<path d="M484.3,190.6 L484.3,188.2 A2.4,2.4 0 0 1 486.4,191.8 Z" fill="#d04040"/><path d="M484.3,190.6 L486.4,191.8 A2.4,2.4 0 0 1 482.2,191.8 Z" fill="#3a9a3a"/><path d="M484.3,190.6 L482.2,191.8 A2.4,2.4 0 0 1 484.3,188.2 Z" fill="#4060c0"/><circle cx="484.3" cy="190.6" r="0.9" fill="#f4f4f4"/>
<rect x="524.2" y="167" width="36.8" height="47.5" fill="#e6e6e6"/>
<rect x="558.4" y="168" width="2.6" height="45.5" fill="#d2d2d2"/>
<rect x="524.2" y="167" width="36.8" height="2" fill="#ededed"/>
<rect x="539" y="177.0" width="17" height="2.2" fill="#454545"/><ellipse cx="551.5" cy="178.1" rx="3.2" ry="2.4" fill="#454545"/>
<rect x="524.5" y="177.1" width="4" height="2" fill="#4a4a4a"/>
<rect x="539" y="202.0" width="17" height="2.2" fill="#454545"/><ellipse cx="551.5" cy="203.1" rx="3.2" ry="2.4" fill="#454545"/>
<rect x="524.5" y="202.1" width="4" height="2" fill="#4a4a4a"/>
<rect x="524.2" y="169" width="3" height="44" fill="#d9d9d9"/><rect x="525.8" y="180" width="1.1" height="22" fill="#555"/>
<path d="M458.2,261.2 V224 a6.2,6.2 0 0 1 12.4,0 V261.2 Z" fill="#2b9be3"/>
<rect x="462" y="225.6" width="4.2" height="6.4" fill="#f4f4f4"/><rect x="463.2" y="227.6" width="1.8" height="2.4" fill="#333"/>
<path d="M542.80,243.70 L546.60,243.70 M542.36,244.76 L545.05,247.45 M541.30,245.20 L541.30,249.00 M540.24,244.76 L537.55,247.45 M539.80,243.70 L536.00,243.70 M540.24,242.64 L537.55,239.95 M541.30,242.20 L541.30,238.40 M542.36,242.64 L545.05,239.95" stroke="#f2b531" stroke-width="1.2"/><circle cx="541.3" cy="243.7" r="1.8" fill="#f2b531"/>
<circle cx="354.09" cy="128.50" r="5.6" fill="#d0d0d0"/>
<circle cx="354.09" cy="128.50" r="4.5" fill="#c3c3c3"/>
<path d="M350.59,120 A3.5,3.5 0 0 0 357.59,120 Z" fill="#d6d6d6"/>
<path d="M352.19,120 A1.9,1.9 0 0 0 355.99,120 Z" fill="#3a3a3a"/>
<path d="M352.69,127.10 L355.49,129.90 M355.49,127.10 L352.69,129.90" stroke="#6acf6a" stroke-width="0.8"/>
<circle cx="354.09" cy="252.80" r="5.6" fill="#d0d0d0"/>
<circle cx="354.09" cy="252.80" r="4.5" fill="#c3c3c3"/>
<path d="M350.59,261.8 A3.5,3.5 0 0 1 357.59,261.8 Z" fill="#d6d6d6"/>
<path d="M352.19,261.8 A1.9,1.9 0 0 1 355.99,261.8 Z" fill="#3a3a3a"/>
<path d="M352.69,251.40 L355.49,254.20 M355.49,251.40 L352.69,254.20" stroke="#6acf6a" stroke-width="0.8"/>
<circle cx="369.86" cy="128.50" r="5.6" fill="#d0d0d0"/>
<circle cx="369.86" cy="128.50" r="4.5" fill="#c3c3c3"/>
<path d="M366.36,120 A3.5,3.5 0 0 0 373.36,120 Z" fill="#d6d6d6"/>
<path d="M367.96,120 A1.9,1.9 0 0 0 371.76,120 Z" fill="#3a3a3a"/>
<path d="M368.46,127.10 L371.26,129.90 M371.26,127.10 L368.46,129.90" stroke="#6acf6a" stroke-width="0.8"/>
<circle cx="369.86" cy="252.80" r="5.6" fill="#d0d0d0"/>
<circle cx="369.86" cy="252.80" r="4.5" fill="#c3c3c3"/>
<path d="M366.36,261.8 A3.5,3.5 0 0 1 373.36,261.8 Z" fill="#d6d6d6"/>
<path d="M367.96,261.8 A1.9,1.9 0 0 1 371.76,261.8 Z" fill="#3a3a3a"/>
<path d="M368.46,251.40 L371.26,254.20 M371.26,251.40 L368.46,254.20" stroke="#6acf6a" stroke-width="0.8"/>
<circle cx="385.63" cy="128.50" r="5.6" fill="#d0d0d0"/>
<circle cx="385.63" cy="128.50" r="4.5" fill="#c3c3c3"/>
<path d="M382.13,120 A3.5,3.5 0 0 0 389.13,120 Z" fill="#d6d6d6"/>
<path d="M383.73,120 A1.9,1.9 0 0 0 387.53,120 Z" fill="#3a3a3a"/>
<path d="M384.23,127.10 L387.03,129.90 M387.03,127.10 L384.23,129.90" stroke="#6acf6a" stroke-width="0.8"/>
<circle cx="385.63" cy="252.80" r="5.6" fill="#d0d0d0"/>
<circle cx="385.63" cy="252.80" r="4.5" fill="#c3c3c3"/>
<path d="M382.13,261.8 A3.5,3.5 0 0 1 389.13,261.8 Z" fill="#d6d6d6"/>
<path d="M383.73,261.8 A1.9,1.9 0 0 1 387.53,261.8 Z" fill="#3a3a3a"/>
<path d="M384.23,251.40 L387.03,254.20 M387.03,251.40 L384.23,254.20" stroke="#6acf6a" stroke-width="0.8"/>
<circle cx="401.40" cy="128.50" r="5.6" fill="#d0d0d0"/>
<circle cx="401.40" cy="128.50" r="4.5" fill="#c3c3c3"/>
<path d="M397.90,120 A3.5,3.5 0 0 0 404.90,120 Z" fill="#d6d6d6"/>
<path d="M399.50,120 A1.9,1.9 0 0 0 403.30,120 Z" fill="#3a3a3a"/>
<path d="M400.00,127.10 L402.80,129.90 M402.80,127.10 L400.00,129.90" stroke="#6acf6a" stroke-width="0.8"/>
<circle cx="401.40" cy="252.80" r="5.6" fill="#d0d0d0"/>
<circle cx="401.40" cy="252.80" r="4.5" fill="#c3c3c3"/>
<path d="M397.90,261.8 A3.5,3.5 0 0 1 404.90,261.8 Z" fill="#d6d6d6"/>
<path d="M399.50,261.8 A1.9,1.9 0 0 1 403.30,261.8 Z" fill="#3a3a3a"/>
<path d="M400.00,251.40 L402.80,254.20 M402.80,251.40 L400.00,254.20" stroke="#6acf6a" stroke-width="0.8"/>
<circle cx="417.17" cy="128.50" r="5.6" fill="#d0d0d0"/>
<circle cx="417.17" cy="128.50" r="4.5" fill="#c3c3c3"/>
<path d="M413.67,120 A3.5,3.5 0 0 0 420.67,120 Z" fill="#d6d6d6"/>
<path d="M415.27,120 A1.9,1.9 0 0 0 419.07,120 Z" fill="#3a3a3a"/>
<path d="M415.77,127.10 L418.57,129.90 M418.57,127.10 L415.77,129.90" stroke="#6acf6a" stroke-width="0.8"/>
<circle cx="417.17" cy="252.80" r="5.6" fill="#d0d0d0"/>
<circle cx="417.17" cy="252.80" r="4.5" fill="#c3c3c3"/>
<path d="M413.67,261.8 A3.5,3.5 0 0 1 420.67,261.8 Z" fill="#d6d6d6"/>
<path d="M415.27,261.8 A1.9,1.9 0 0 1 419.07,261.8 Z" fill="#3a3a3a"/>
<path d="M415.77,251.40 L418.57,254.20 M418.57,251.40 L415.77,254.20" stroke="#6acf6a" stroke-width="0.8"/>
<circle cx="432.94" cy="128.50" r="5.6" fill="#d0d0d0"/>
<circle cx="432.94" cy="128.50" r="4.5" fill="#c3c3c3"/>
<path d="M429.44,120 A3.5,3.5 0 0 0 436.44,120 Z" fill="#d6d6d6"/>
<path d="M431.04,120 A1.9,1.9 0 0 0 434.84,120 Z" fill="#3a3a3a"/>
<path d="M431.54,127.10 L434.34,129.90 M434.34,127.10 L431.54,129.90" stroke="#6acf6a" stroke-width="0.8"/>
<circle cx="432.94" cy="252.80" r="5.6" fill="#d0d0d0"/>
<circle cx="432.94" cy="252.80" r="4.5" fill="#c3c3c3"/>
<path d="M429.44,261.8 A3.5,3.5 0 0 1 436.44,261.8 Z" fill="#d6d6d6"/>
<path d="M431.04,261.8 A1.9,1.9 0 0 1 434.84,261.8 Z" fill="#3a3a3a"/>
<path d="M431.54,251.40 L434.34,254.20 M434.34,251.40 L431.54,254.20" stroke="#6acf6a" stroke-width="0.8"/>
<circle cx="448.71" cy="128.50" r="5.6" fill="#d0d0d0"/>
<circle cx="448.71" cy="128.50" r="4.5" fill="#c3c3c3"/>
<path d="M445.21,120 A3.5,3.5 0 0 0 452.21,120 Z" fill="#d6d6d6"/>
<path d="M446.81,120 A1.9,1.9 0 0 0 450.61,120 Z" fill="#3a3a3a"/>
<path d="M447.31,127.10 L450.11,129.90 M450.11,127.10 L447.31,129.90" stroke="#6acf6a" stroke-width="0.8"/>
<circle cx="448.71" cy="252.80" r="5.6" fill="#d0d0d0"/>
<circle cx="448.71" cy="252.80" r="4.5" fill="#c3c3c3"/>
<path d="M445.21,261.8 A3.5,3.5 0 0 1 452.21,261.8 Z" fill="#d6d6d6"/>
<path d="M446.81,261.8 A1.9,1.9 0 0 1 450.61,261.8 Z" fill="#3a3a3a"/>
<path d="M447.31,251.40 L450.11,254.20 M450.11,251.40 L447.31,254.20" stroke="#6acf6a" stroke-width="0.8"/>
<circle cx="464.48" cy="128.50" r="5.6" fill="#d0d0d0"/>
<circle cx="464.48" cy="128.50" r="4.5" fill="#c3c3c3"/>
<path d="M460.98,120 A3.5,3.5 0 0 0 467.98,120 Z" fill="#d6d6d6"/>
<path d="M462.58,120 A1.9,1.9 0 0 0 466.38,120 Z" fill="#3a3a3a"/>
<path d="M463.08,127.10 L465.88,129.90 M465.88,127.10 L463.08,129.90" stroke="#6acf6a" stroke-width="0.8"/>
<circle cx="464.48" cy="252.80" r="5.6" fill="#d0d0d0"/>
<circle cx="464.48" cy="252.80" r="4.5" fill="#c3c3c3"/>
<path d="M460.98,261.8 A3.5,3.5 0 0 1 467.98,261.8 Z" fill="#d6d6d6"/>
<path d="M462.58,261.8 A1.9,1.9 0 0 1 466.38,261.8 Z" fill="#3a3a3a"/>
<path d="M463.08,251.40 L465.88,254.20 M465.88,251.40 L463.08,254.20" stroke="#6acf6a" stroke-width="0.8"/>
<circle cx="480.25" cy="128.50" r="5.6" fill="#d0d0d0"/>
<circle cx="480.25" cy="128.50" r="4.5" fill="#c3c3c3"/>
<path d="M476.75,120 A3.5,3.5 0 0 0 483.75,120 Z" fill="#d6d6d6"/>
<path d="M478.35,120 A1.9,1.9 0 0 0 482.15,120 Z" fill="#3a3a3a"/>
<path d="M478.85,127.10 L481.65,129.90 M481.65,127.10 L478.85,129.90" stroke="#6acf6a" stroke-width="0.8"/>
<circle cx="480.25" cy="252.80" r="5.6" fill="#d0d0d0"/>
<circle cx="480.25" cy="252.80" r="4.5" fill="#c3c3c3"/>
<path d="M476.75,261.8 A3.5,3.5 0 0 1 483.75,261.8 Z" fill="#d6d6d6"/>
<path d="M478.35,261.8 A1.9,1.9 0 0 1 482.15,261.8 Z" fill="#3a3a3a"/>
<path d="M478.85,251.40 L481.65,254.20 M481.65,251.40 L478.85,254.20" stroke="#6acf6a" stroke-width="0.8"/>
<circle cx="496.02" cy="128.50" r="5.6" fill="#d0d0d0"/>
<circle cx="496.02" cy="128.50" r="4.5" fill="#c3c3c3"/>
<path d="M492.52,120 A3.5,3.5 0 0 0 499.52,120 Z" fill="#d6d6d6"/>
<path d="M494.12,120 A1.9,1.9 0 0 0 497.92,120 Z" fill="#3a3a3a"/>
<path d="M494.62,127.10 L497.42,129.90 M497.42,127.10 L494.62,129.90" stroke="#6acf6a" stroke-width="0.8"/>
<circle cx="496.02" cy="252.80" r="5.6" fill="#d0d0d0"/>
<circle cx="496.02" cy="252.80" r="4.5" fill="#c3c3c3"/>
<path d="M492.52,261.8 A3.5,3.5 0 0 1 499.52,261.8 Z" fill="#d6d6d6"/>
<path d="M494.12,261.8 A1.9,1.9 0 0 1 497.92,261.8 Z" fill="#3a3a3a"/>
<path d="M494.62,251.40 L497.42,254.20 M497.42,251.40 L494.62,254.20" stroke="#6acf6a" stroke-width="0.8"/>
<circle cx="511.79" cy="128.50" r="5.6" fill="#d0d0d0"/>
<circle cx="511.79" cy="128.50" r="4.5" fill="#c3c3c3"/>
<path d="M508.29,120 A3.5,3.5 0 0 0 515.29,120 Z" fill="#d6d6d6"/>
<path d="M509.89,120 A1.9,1.9 0 0 0 513.69,120 Z" fill="#3a3a3a"/>
<path d="M510.39,127.10 L513.19,129.90 M513.19,127.10 L510.39,129.90" stroke="#6acf6a" stroke-width="0.8"/>
<circle cx="511.79" cy="252.80" r="5.6" fill="#d0d0d0"/>
<circle cx="511.79" cy="252.80" r="4.5" fill="#c3c3c3"/>
<path d="M508.29,261.8 A3.5,3.5 0 0 1 515.29,261.8 Z" fill="#d6d6d6"/>
<path d="M509.89,261.8 A1.9,1.9 0 0 1 513.69,261.8 Z" fill="#3a3a3a"/>
<path d="M510.39,251.40 L513.19,254.20 M513.19,251.40 L510.39,254.20" stroke="#6acf6a" stroke-width="0.8"/>
<circle cx="527.56" cy="128.50" r="5.6" fill="#d0d0d0"/>
<circle cx="527.56" cy="128.50" r="4.5" fill="#c3c3c3"/>
<path d="M524.06,120 A3.5,3.5 0 0 0 531.06,120 Z" fill="#d6d6d6"/>
<path d="M525.66,120 A1.9,1.9 0 0 0 529.46,120 Z" fill="#3a3a3a"/>
<path d="M526.16,127.10 L528.96,129.90 M528.96,127.10 L526.16,129.90" stroke="#6acf6a" stroke-width="0.8"/>
<circle cx="527.56" cy="252.80" r="5.6" fill="#d0d0d0"/>
<circle cx="527.56" cy="252.80" r="4.5" fill="#c3c3c3"/>
<path d="M524.06,261.8 A3.5,3.5 0 0 1 531.06,261.8 Z" fill="#d6d6d6"/>
<path d="M525.66,261.8 A1.9,1.9 0 0 1 529.46,261.8 Z" fill="#3a3a3a"/>
<path d="M526.16,251.40 L528.96,254.20 M528.96,251.40 L526.16,254.20" stroke="#6acf6a" stroke-width="0.8"/>
<text x="0" y="0" transform="translate(354.09 142.9) scale(1 1.3)" font-size="7" fill="#2b86c8" text-anchor="middle" textLength="8" lengthAdjust="spacingAndGlyphs">A0</text>
<text x="0" y="0" transform="translate(369.86 142.9) scale(1 1.3)" font-size="7" fill="#2b86c8" text-anchor="middle" textLength="8" lengthAdjust="spacingAndGlyphs">A1</text>
<text x="0" y="0" transform="translate(385.63 142.9) scale(1 1.3)" font-size="7" fill="#2b86c8" text-anchor="middle" textLength="8.4" lengthAdjust="spacingAndGlyphs">A2</text>
<text x="0" y="0" transform="translate(401.40 142.9) scale(1 1.3)" font-size="7" fill="#2b86c8" text-anchor="middle" textLength="8.4" lengthAdjust="spacingAndGlyphs">A3</text>
<text x="0" y="0" transform="translate(417.17 142.9) scale(1 1.3)" font-size="7" fill="#2b86c8" text-anchor="middle" textLength="8.2" lengthAdjust="spacingAndGlyphs">A4</text>
<text x="0" y="0" transform="translate(432.94 142.9) scale(1 1.3)" font-size="7" fill="#2b86c8" text-anchor="middle" textLength="9.8" lengthAdjust="spacingAndGlyphs">A5</text>
<text x="0" y="0" transform="translate(448.71 142.9) scale(1 1.3)" font-size="7" fill="#2b86c8" text-anchor="middle" textLength="14.0" lengthAdjust="spacingAndGlyphs">DAC</text>
<text x="0" y="0" transform="translate(464.48 142.9) scale(1 1.3)" font-size="7" fill="#2b86c8" text-anchor="middle" textLength="15.0" lengthAdjust="spacingAndGlyphs">WKP</text>
<text x="0" y="0" transform="translate(480.25 142.9) scale(1 1.3)" font-size="7" fill="#2b86c8" text-anchor="middle" textLength="9.5" lengthAdjust="spacingAndGlyphs">RX</text>
<text x="0" y="0" transform="translate(496.02 142.9) scale(1 1.3)" font-size="7" fill="#2b86c8" text-anchor="middle" textLength="9.1" lengthAdjust="spacingAndGlyphs">TX</text>
<text x="0" y="0" transform="translate(511.79 142.9) scale(1 1.3)" font-size="7" fill="#2b86c8" text-anchor="middle" textLength="15.2" lengthAdjust="spacingAndGlyphs">GND</text>
<text x="0" y="0" transform="translate(527.56 142.9) scale(1 1.3)" font-size="7" fill="#2b86c8" text-anchor="middle" textLength="13.3" lengthAdjust="spacingAndGlyphs">VIN</text>
<text x="0" y="0" transform="translate(354.09 246.1) scale(1 1.3)" font-size="7" fill="#2b86c8" text-anchor="middle" textLength="9.2" lengthAdjust="spacingAndGlyphs">D0</text>
<text x="0" y="0" transform="translate(369.86 246.1) scale(1 1.3)" font-size="7" fill="#2b86c8" text-anchor="middle" textLength="8.9" lengthAdjust="spacingAndGlyphs">D1</text>
<text x="0" y="0" transform="translate(385.63 246.1) scale(1 1.3)" font-size="7" fill="#2b86c8" text-anchor="middle" textLength="9.2" lengthAdjust="spacingAndGlyphs">D2</text>
<text x="0" y="0" transform="translate(401.40 246.1) scale(1 1.3)" font-size="7" fill="#2b86c8" text-anchor="middle" textLength="9.2" lengthAdjust="spacingAndGlyphs">D3</text>
<text x="0" y="0" transform="translate(417.17 246.1) scale(1 1.3)" font-size="7" fill="#2b86c8" text-anchor="middle" textLength="9.2" lengthAdjust="spacingAndGlyphs">D4</text>
<text x="0" y="0" transform="translate(432.94 246.1) scale(1 1.3)" font-size="7" fill="#2b86c8" text-anchor="middle" textLength="9.2" lengthAdjust="spacingAndGlyphs">D5</text>
<text x="0" y="0" transform="translate(448.71 246.1) scale(1 1.3)" font-size="7" fill="#2b86c8" text-anchor="middle" textLength="9.2" lengthAdjust="spacingAndGlyphs">D6</text>
<text x="0" y="0" transform="translate(464.48 246.1) scale(1 1.3)" font-size="7" fill="#1c6fb4" text-anchor="middle" textLength="9.2" lengthAdjust="spacingAndGlyphs">D7</text>
<text x="0" y="0" transform="translate(480.25 246.1) scale(1 1.3)" font-size="7" fill="#2b86c8" text-anchor="middle" textLength="15.2" lengthAdjust="spacingAndGlyphs">GND</text>
<text x="0" y="0" transform="translate(496.02 246.1) scale(1 1.3)" font-size="7" fill="#2b86c8" text-anchor="middle" textLength="18.1" lengthAdjust="spacingAndGlyphs">VBAT</text>
<text x="0" y="0" transform="translate(511.79 246.1) scale(1 1.3)" font-size="7" fill="#2b86c8" text-anchor="middle" textLength="11.6" lengthAdjust="spacingAndGlyphs">RST</text>
<text x="0" y="0" transform="translate(527.56 246.1) scale(1 1.3)" font-size="7" fill="#2b86c8" text-anchor="middle" textLength="13.5" lengthAdjust="spacingAndGlyphs">3V3</text>
<circle cx="101.77" cy="270.80" r="6.3" fill="url(#hg)"/>
<circle cx="354.09" cy="252.80" r="6.3" fill="url(#hg)"/>
<path d="M101.77,270.80 L354.09,270.80 L354.09,252.80" fill="none" stroke="#0d8a0f" stroke-width="8" stroke-linecap="round" stroke-linejoin="round"/>
<path d="M101.77,270.80 L354.09,270.80 L354.09,252.80" fill="none" stroke="#25c42b" stroke-width="5.4" stroke-linecap="round" stroke-linejoin="round"/>
<circle cx="101.77" cy="270.80" r="3.60" fill="#1eaa22"/>
<circle cx="354.09" cy="252.80" r="3.60" fill="#1eaa22"/>
<rect x="350.09" y="266.80" width="8.00" height="8.00" rx="3.08" fill="#14a014"/>
<circle cx="117.54" cy="288.40" r="6.3" fill="url(#hg)"/>
<circle cx="369.86" cy="252.80" r="6.3" fill="url(#hg)"/>
<path d="M117.54,288.40 L369.86,288.40 L369.86,252.80" fill="none" stroke="#c9b900" stroke-width="7.4" stroke-linecap="round" stroke-linejoin="round"/>
<path d="M117.54,288.40 L369.86,288.40 L369.86,252.80" fill="none" stroke="#fbec00" stroke-width="4.800000000000001" stroke-linecap="round" stroke-linejoin="round"/>
<circle cx="117.54" cy="288.40" r="3.30" fill="#c4e62a"/>
<circle cx="369.86" cy="252.80" r="3.30" fill="#c4e62a"/>
<rect x="366.16" y="284.70" width="7.40" height="7.40" rx="2.85" fill="#e6dc00"/>
<circle cx="133.31" cy="252.80" r="6.3" fill="url(#hg)"/>
<circle cx="480.25" cy="252.80" r="6.3" fill="url(#hg)"/>
<path d="M133.31,252.80 L133.31,326.90 L363.00,325.30 L480.25,324.90 L480.25,252.80" fill="none" stroke="#0e0e0e" stroke-width="7.6" stroke-linecap="round" stroke-linejoin="round"/>
<path d="M133.31,252.80 L133.31,326.90 L363.00,325.30 L480.25,324.90 L480.25,252.80" fill="none" stroke="#383838" stroke-width="5.0" stroke-linecap="round" stroke-linejoin="round"/>
<circle cx="133.31" cy="252.80" r="3.40" fill="#1f3d1f"/>
<circle cx="480.25" cy="252.80" r="3.40" fill="#1f3d1f"/>
<circle cx="133.31" cy="327.50" r="4.3" fill="#0c0c0c"/>
<circle cx="480.25" cy="325.50" r="4.3" fill="#0c0c0c"/>
<circle cx="86.00" cy="306.20" r="6.3" fill="url(#hg)"/>
<circle cx="527.56" cy="252.80" r="6.3" fill="url(#hg)"/>
<path d="M86.00,306.20 L86.00,341.70 L353.60,341.70 L527.56,341.30 L527.56,252.80" fill="none" stroke="#980404" stroke-width="7.4" stroke-linecap="round" stroke-linejoin="round"/>
<path d="M86.00,306.20 L86.00,341.70 L353.60,341.70 L527.56,341.30 L527.56,252.80" fill="none" stroke="#d11111" stroke-width="4.800000000000001" stroke-linecap="round" stroke-linejoin="round"/>
<circle cx="86.00" cy="306.20" r="3.30" fill="#a04a1a"/>
<circle cx="527.56" cy="252.80" r="3.30" fill="#a04a1a"/>
<rect x="82.30" y="338.00" width="7.40" height="7.40" rx="2.85" fill="#a00808"/>
<rect x="349.90" y="338.00" width="7.40" height="7.40" rx="2.85" fill="#a00808"/>
<rect x="523.86" y="337.60" width="7.40" height="7.40" rx="2.85" fill="#a00808"/>
</svg></body></html>
